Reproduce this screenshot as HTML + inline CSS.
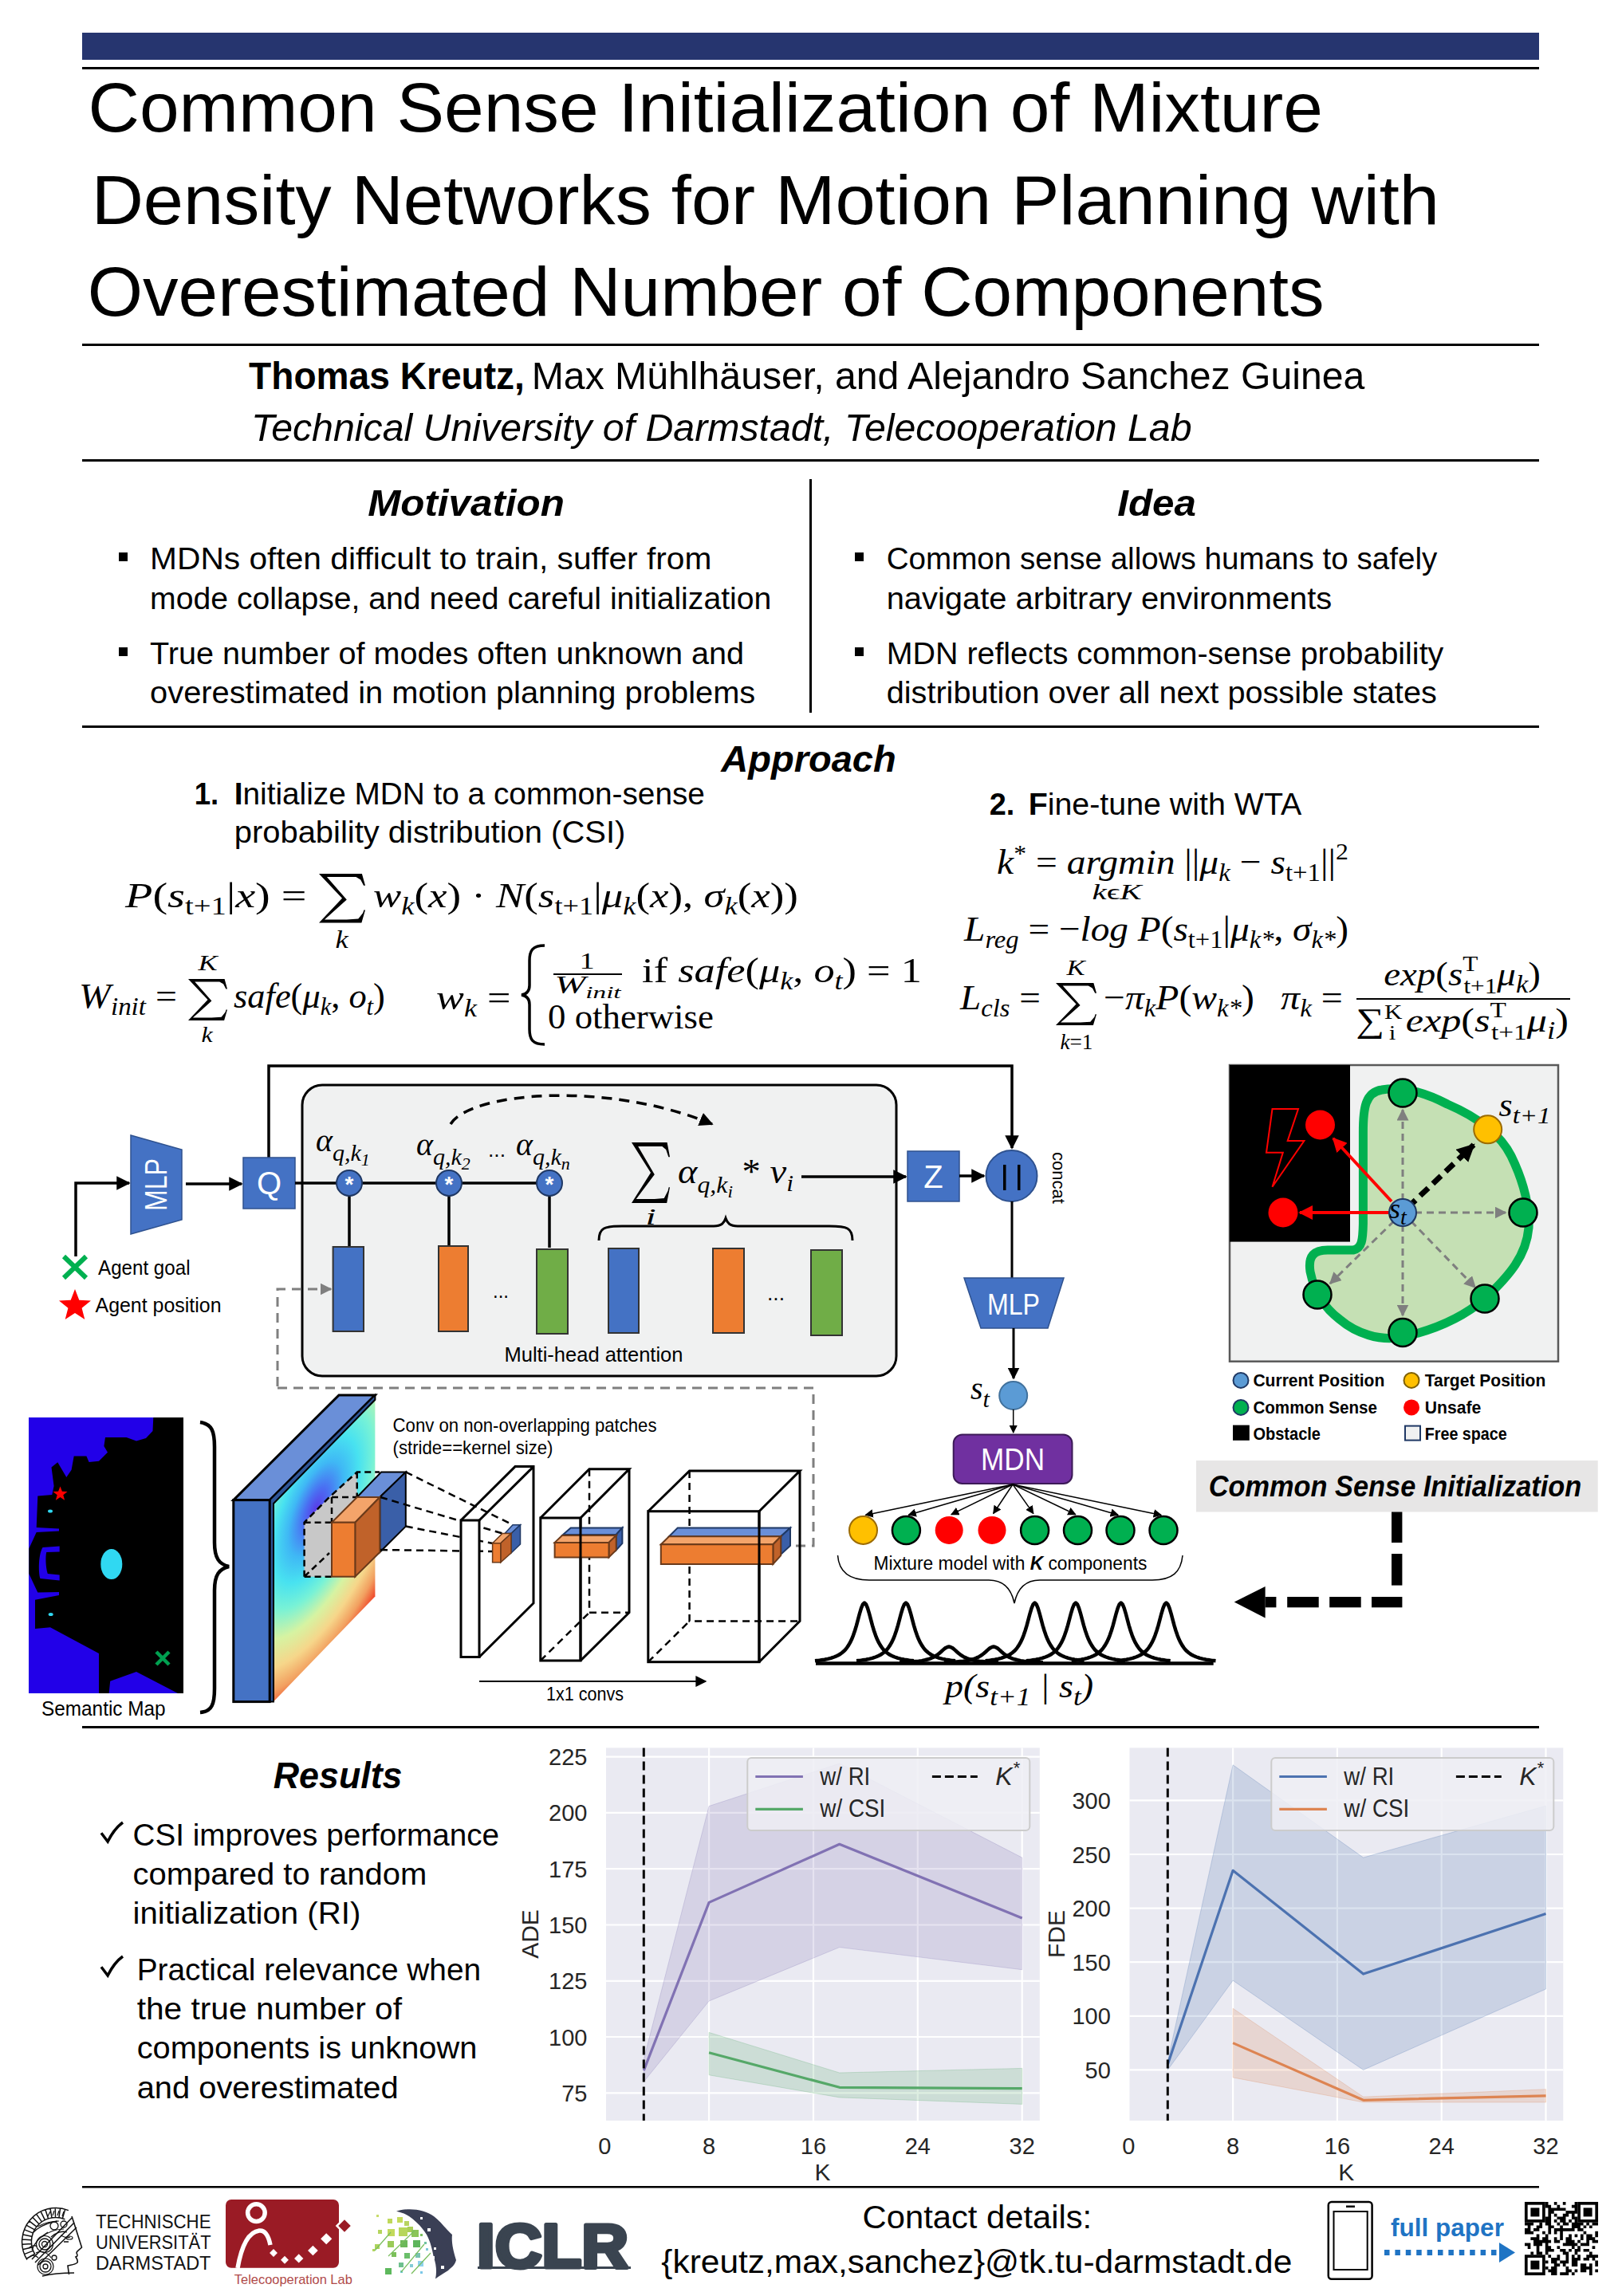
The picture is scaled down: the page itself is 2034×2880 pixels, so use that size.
<!DOCTYPE html>
<html><head><meta charset="utf-8"><title>Common Sense Initialization of Mixture Density Networks</title>
<style>
html,body{margin:0;padding:0;background:#fff;}
body{width:2034px;height:2880px;overflow:hidden;}
svg{display:block;font-family:"Liberation Sans", sans-serif;}
</style></head><body>
<svg width="2034" height="2880" viewBox="0 0 2034 2880">
<rect x="0" y="0" width="2034" height="2880" fill="#fff"/>
<rect x="103" y="41" width="1827" height="34" fill="#26356F" />
<rect x="103" y="84" width="1827" height="3" fill="#000" />
<text x="110.4" y="165.0" font-size="88" fill="#000" textLength="1548.5" lengthAdjust="spacingAndGlyphs" >Common Sense Initialization of Mixture</text>
<text x="114.7" y="280.5" font-size="88" fill="#000" textLength="1690.3" lengthAdjust="spacingAndGlyphs" >Density Networks for Motion Planning with</text>
<text x="109.7" y="396.0" font-size="88" fill="#000" textLength="1551.0" lengthAdjust="spacingAndGlyphs" >Overestimated Number of Components</text>
<rect x="103" y="431" width="1827" height="3" fill="#000" />
<text x="312.1" y="488.0" font-size="48" fill="#000" font-weight="bold" textLength="345.8" lengthAdjust="spacingAndGlyphs" >Thomas Kreutz,</text>
<text x="666.7" y="488.0" font-size="48" fill="#000" textLength="1044.7" lengthAdjust="spacingAndGlyphs" >Max Mühlhäuser, and Alejandro Sanchez Guinea</text>
<text x="315.1" y="553.0" font-size="48" fill="#000" font-style="italic" textLength="1179.4" lengthAdjust="spacingAndGlyphs" >Technical University of Darmstadt, Telecooperation Lab</text>
<rect x="103" y="576" width="1827" height="3" fill="#000" />
<text x="461.2" y="646.5" font-size="47" fill="#000" font-weight="bold" font-style="italic" textLength="246.6" lengthAdjust="spacingAndGlyphs" >Motivation</text>
<text x="1401.2" y="646.5" font-size="47" fill="#000" font-weight="bold" font-style="italic" textLength="98.6" lengthAdjust="spacingAndGlyphs" >Idea</text>
<rect x="1015" y="601" width="3" height="293" fill="#000" />
<rect x="149" y="693" width="11" height="11" fill="#000" />
<rect x="149" y="812" width="11" height="11" fill="#000" />
<text x="188.1" y="714.4" font-size="38" fill="#000" textLength="704.2" lengthAdjust="spacingAndGlyphs" >MDNs often difficult to train, suffer from</text>
<text x="188.1" y="763.7" font-size="38" fill="#000" textLength="779.2" lengthAdjust="spacingAndGlyphs" >mode collapse, and need careful initialization</text>
<text x="188.1" y="832.8" font-size="38" fill="#000" textLength="745.0" lengthAdjust="spacingAndGlyphs" >True number of modes often unknown and</text>
<text x="188.1" y="882.0" font-size="38" fill="#000" textLength="759.2" lengthAdjust="spacingAndGlyphs" >overestimated in motion planning problems</text>
<rect x="1072" y="693" width="11" height="11" fill="#000" />
<rect x="1072" y="812" width="11" height="11" fill="#000" />
<text x="1111.7" y="714.4" font-size="38" fill="#000" textLength="690.6" lengthAdjust="spacingAndGlyphs" >Common sense allows humans to safely</text>
<text x="1111.7" y="763.7" font-size="38" fill="#000" textLength="558.6" lengthAdjust="spacingAndGlyphs" >navigate arbitrary environments</text>
<text x="1111.7" y="832.8" font-size="38" fill="#000" textLength="698.6" lengthAdjust="spacingAndGlyphs" >MDN reflects common-sense probability</text>
<text x="1111.7" y="882.0" font-size="38" fill="#000" textLength="690.1" lengthAdjust="spacingAndGlyphs" >distribution over all next possible states</text>
<rect x="103" y="910" width="1827" height="3" fill="#000" />
<text x="904.2" y="968.0" font-size="47" fill="#000" font-weight="bold" font-style="italic" textLength="219.6" lengthAdjust="spacingAndGlyphs" >Approach</text>
<text x="243.7" y="1008.5" font-size="38" fill="#000" font-weight="bold" textLength="30.6" lengthAdjust="spacingAndGlyphs" >1.</text>
<text x='293.7' y='1008.5' font-size='38' textLength='590.2' lengthAdjust='spacingAndGlyphs'><tspan font-weight='bold'>I</tspan>nitialize MDN to a common-sense</text>
<text x="293.7" y="1057.0" font-size="38" fill="#000" textLength="490.6" lengthAdjust="spacingAndGlyphs" >probability distribution (CSI)</text>
<text x="1240.7" y="1021.7" font-size="38" fill="#000" font-weight="bold" textLength="31.6" lengthAdjust="spacingAndGlyphs" >2.</text>
<text x='1289.7' y='1021.7' font-size='38' textLength='342.6' lengthAdjust='spacingAndGlyphs'><tspan font-weight='bold'>F</tspan>ine-tune with WTA</text>
<text x="157.1" y="1137.7" font-size="45" font-family='"Liberation Serif", serif' font-style="italic" textLength="227.4" lengthAdjust="spacingAndGlyphs" >P<tspan font-style="normal">(</tspan>s<tspan font-size="31" dy="9"><tspan font-style="normal">t+1</tspan></tspan><tspan dy="-9">​</tspan><tspan font-style="normal">|</tspan>x<tspan font-style="normal">) =</tspan></text>
<path d="M400.0,1096.0 L453.9,1096.0 L458.0,1110.8 L456.0,1110.8 L452.2,1103.4 L446.4,1100.0 L431.9,1100.0 L409.9,1100.0 L434.8,1128.6 L407.0,1153.5 L434.8,1153.5 L449.3,1152.6 L455.1,1145.2 L456.3,1141.5 L458.0,1141.5 L453.4,1157.5 L400.0,1157.5 L429.0,1126.8 Z" fill="#000"/>
<text x="420.4" y="1189.0" font-size="31" font-family='"Liberation Serif", serif' font-style="italic" textLength="16.2" lengthAdjust="spacingAndGlyphs" >k</text>
<text x="468.1" y="1137.7" font-size="45" font-family='"Liberation Serif", serif' font-style="italic" textLength="532.8" lengthAdjust="spacingAndGlyphs" >w<tspan font-size="31" dy="9">k</tspan><tspan dy="-9">​</tspan><tspan font-style="normal">(</tspan>x<tspan font-style="normal">) · </tspan>N<tspan font-style="normal">(</tspan>s<tspan font-size="31" dy="9"><tspan font-style="normal">t+1</tspan></tspan><tspan dy="-9">​</tspan><tspan font-style="normal">|</tspan>μ<tspan font-size="31" dy="9">k</tspan><tspan dy="-9">​</tspan><tspan font-style="normal">(</tspan>x<tspan font-style="normal">),</tspan> σ<tspan font-size="31" dy="9">k</tspan><tspan dy="-9">​</tspan><tspan font-style="normal">(</tspan>x<tspan font-style="normal">))</text>
<text x="99.1" y="1263.5" font-size="45" font-family='"Liberation Serif", serif' font-style="italic" textLength="122.8" lengthAdjust="spacingAndGlyphs" >W<tspan font-size="31" dy="9">init</tspan><tspan dy="-9">​</tspan><tspan font-style="normal"> =</tspan></text>
<path d="M236.0,1228.0 L281.6,1228.0 L285.0,1240.5 L283.3,1240.5 L280.1,1234.2 L275.2,1231.4 L262.9,1231.4 L244.3,1231.4 L265.4,1255.6 L241.9,1276.6 L265.4,1276.6 L277.6,1275.8 L282.6,1269.6 L283.5,1266.5 L285.0,1266.5 L281.1,1280.0 L236.0,1280.0 L260.5,1254.0 Z" fill="#000"/>
<text x="248.4" y="1217.0" font-size="28" font-family='"Liberation Serif", serif' font-style="italic" textLength="24.1" lengthAdjust="spacingAndGlyphs" >K</text>
<text x="252.4" y="1307.0" font-size="28" font-family='"Liberation Serif", serif' font-style="italic" textLength="14.1" lengthAdjust="spacingAndGlyphs" >k</text>
<text x="293.1" y="1263.5" font-size="45" font-family='"Liberation Serif", serif' font-style="italic" textLength="189.8" lengthAdjust="spacingAndGlyphs" >safe<tspan font-style="normal">(</tspan>μ<tspan font-size="31" dy="9">k</tspan><tspan dy="-9">​</tspan><tspan font-style="normal">,</tspan> o<tspan font-size="31" dy="9">t</tspan><tspan dy="-9">​</tspan><tspan font-style="normal">)</tspan></text>
<text x="547.1" y="1266.0" font-size="45" font-family='"Liberation Serif", serif' font-style="italic" textLength="93.3" lengthAdjust="spacingAndGlyphs" >w<tspan font-size="31" dy="9">k</tspan><tspan dy="-9">​</tspan><tspan font-style="normal"> =</tspan></text>
<path d="M683,1186 C668,1186 664,1192 664,1205 L664,1236 C664,1244 660,1247 654,1248 C660,1249 664,1252 664,1260 L664,1291 C664,1304 668,1310 683,1310" fill="none" stroke="#000" stroke-width="3.5"/>
<text x="726.4" y="1215.0" font-size="30" font-family='"Liberation Serif", serif' font-style="italic" textLength="19.2" lengthAdjust="spacingAndGlyphs" ><tspan font-style="normal">1</tspan></text>
<rect x="694" y="1221" width="86" height="2" fill="#000" />
<text x="695.4" y="1246.0" font-size="31" font-family='"Liberation Serif", serif' font-style="italic" textLength="83.2" lengthAdjust="spacingAndGlyphs" >W<tspan font-size="22" dy="6">init</tspan><tspan dy="-6">​</tspan></text>
<text x="805.1" y="1232.0" font-size="45" font-family='"Liberation Serif", serif' font-style="italic" textLength="350.8" lengthAdjust="spacingAndGlyphs" ><tspan font-style="normal">if</tspan>  safe<tspan font-style="normal">(</tspan>μ<tspan font-size="31" dy="9">k</tspan><tspan dy="-9">​</tspan><tspan font-style="normal">,</tspan> o<tspan font-size="31" dy="9">t</tspan><tspan dy="-9">​</tspan><tspan font-style="normal">) = 1</tspan></text>
<text x="687.1" y="1290.0" font-size="45" font-family='"Liberation Serif", serif' font-style="italic" textLength="207.8" lengthAdjust="spacingAndGlyphs" ><tspan font-style="normal">0  otherwise</tspan></text>
<text x="1250.1" y="1095.5" font-size="45" font-family='"Liberation Serif", serif' font-style="italic" textLength="440.8" lengthAdjust="spacingAndGlyphs" >k<tspan font-style="normal"><tspan font-size="30" dy="-16">*</tspan><tspan dy="16"> = </tspan></tspan>argmin <tspan font-style="normal">||</tspan>μ<tspan font-size="31" dy="9">k</tspan><tspan dy="-9">​</tspan><tspan font-style="normal"> − </tspan>s<tspan font-size="31" dy="9"><tspan font-style="normal">t+1</tspan></tspan><tspan dy="-9">​</tspan><tspan font-style="normal">||<tspan font-size="30" dy="-18">2</tspan></tspan></text>
<text x="1369.5" y="1128.0" font-size="27" font-family='"Liberation Serif", serif' font-style="italic" textLength="62.1" lengthAdjust="spacingAndGlyphs" >k<tspan font-style="normal">ϵ</tspan>K</text>
<text x="1209.1" y="1180.0" font-size="45" font-family='"Liberation Serif", serif' font-style="italic" textLength="481.8" lengthAdjust="spacingAndGlyphs" >L<tspan font-size="31" dy="9">reg</tspan><tspan dy="-9">​</tspan><tspan font-style="normal"> = −</tspan>log P<tspan font-style="normal">(</tspan>s<tspan font-size="31" dy="9"><tspan font-style="normal">t+1</tspan></tspan><tspan dy="-9">​</tspan><tspan font-style="normal">|</tspan>μ<tspan font-size="31" dy="9">k*</tspan><tspan dy="-9">​</tspan><tspan font-style="normal">,</tspan> σ<tspan font-size="31" dy="9">k*</tspan><tspan dy="-9">​</tspan><tspan font-style="normal">)</tspan></text>
<text x="1204.1" y="1266.0" font-size="45" font-family='"Liberation Serif", serif' font-style="italic" textLength="100.8" lengthAdjust="spacingAndGlyphs" >L<tspan font-size="31" dy="9">cls</tspan><tspan dy="-9">​</tspan><tspan font-style="normal"> =</tspan></text>
<path d="M1324.0,1233.0 L1371.4,1233.0 L1375.0,1245.7 L1373.2,1245.7 L1369.9,1239.4 L1364.8,1236.4 L1352.0,1236.4 L1332.7,1236.4 L1354.6,1261.1 L1330.1,1282.6 L1354.6,1282.6 L1367.3,1281.8 L1372.5,1275.4 L1373.5,1272.2 L1375.0,1272.2 L1370.9,1286.0 L1324.0,1286.0 L1349.5,1259.5 Z" fill="#000"/>
<text x="1337.4" y="1223.0" font-size="28" font-family='"Liberation Serif", serif' font-style="italic" textLength="23.1" lengthAdjust="spacingAndGlyphs" >K</text>
<text x="1329.4" y="1316.0" font-size="28" font-family='"Liberation Serif", serif' font-style="italic" textLength="41.1" lengthAdjust="spacingAndGlyphs" >k<tspan font-style="normal">=1</tspan></text>
<text x="1384.1" y="1266.0" font-size="45" font-family='"Liberation Serif", serif' font-style="italic" textLength="188.8" lengthAdjust="spacingAndGlyphs" ><tspan font-style="normal">−</tspan>π<tspan font-size="31" dy="9">k</tspan><tspan dy="-9">​</tspan>P<tspan font-style="normal">(</tspan>w<tspan font-size="31" dy="9">k*</tspan><tspan dy="-9">​</tspan><tspan font-style="normal">)</tspan></text>
<text x="1606.1" y="1266.0" font-size="45" font-family='"Liberation Serif", serif' font-style="italic" textLength="77.8" lengthAdjust="spacingAndGlyphs" >π<tspan font-size="31" dy="9">k</tspan><tspan dy="-9">​</tspan><tspan font-style="normal"> =</tspan></text>
<text x="1735.2" y="1235.5" font-size="42" font-family='"Liberation Serif", serif' font-style="italic" textLength="196.7" lengthAdjust="spacingAndGlyphs" >exp<tspan font-style="normal">(</tspan>s<tspan font-style="normal"><tspan font-size="28" dy="-18">T</tspan><tspan font-size="28" dx="-16" dy="28">t+1</tspan><tspan dy="-10">​</tspan></tspan>μ<tspan font-size="31" dy="9">k</tspan><tspan dy="-9">​</tspan><tspan font-style="normal">)</tspan></text>
<rect x="1701" y="1252" width="268" height="2" fill="#000" />
<text x="1700.2" y="1293.7" font-size="42" font-family='"Liberation Serif", serif' font-style="italic" textLength="266.7" lengthAdjust="spacingAndGlyphs" ><tspan font-style="normal">∑<tspan font-size="26" dy="-16">K</tspan><tspan font-size="26" dx="-14" dy="26">i</tspan><tspan dy="-10">​</tspan></tspan> exp<tspan font-style="normal">(</tspan>s<tspan font-style="normal"><tspan font-size="28" dy="-18">T</tspan><tspan font-size="28" dx="-16" dy="28">t+1</tspan><tspan dy="-10">​</tspan></tspan>μ<tspan font-size="31" dy="9">i</tspan><tspan dy="-9">​</tspan><tspan font-style="normal">)</tspan></text>
<defs>
<marker id="ah" viewBox="0 0 10 10" refX="9" refY="5" markerWidth="5" markerHeight="5" orient="auto" markerUnits="strokeWidth"><path d="M0,0 L10,5 L0,10 z" fill="#000"/></marker>
<marker id="ahs" viewBox="0 0 10 10" refX="9" refY="5" markerWidth="7" markerHeight="7" orient="auto" markerUnits="strokeWidth"><path d="M0,0 L10,5 L0,10 z" fill="#000"/></marker>
<marker id="ahg" viewBox="0 0 10 10" refX="9" refY="5" markerWidth="5" markerHeight="5" orient="auto" markerUnits="strokeWidth"><path d="M0,0 L10,5 L0,10 z" fill="#7F7F7F"/></marker>
<radialGradient id="jet" gradientUnits="userSpaceOnUse" cx="0" cy="0" r="1" gradientTransform="matrix(113.25,-267.90,-109.43,-46.26,396,1893)">
<stop offset="0" stop-color="#5A3BE8"/><stop offset="0.1" stop-color="#4A6FF2"/><stop offset="0.22" stop-color="#3FB8F5"/><stop offset="0.34" stop-color="#48E2F0"/><stop offset="0.46" stop-color="#78F2D6"/>
<stop offset="0.6" stop-color="#D6F3A2"/><stop offset="0.74" stop-color="#F6D68A"/><stop offset="0.86" stop-color="#F2A060"/><stop offset="1" stop-color="#EE2A18"/></radialGradient>
</defs>
<path d="M337,1452 L337,1337 L1269,1337 L1269,1440" fill="none" stroke="#000" stroke-width="3.5" marker-end="url(#ah)"/>
<path d="M95,1576 L95,1484 L162,1484" fill="none" stroke="#000" stroke-width="3.5" marker-end="url(#ah)"/>
<path d="M164,1424 L228,1442 L228,1530 L164,1548 Z" fill="#4472C4" stroke="#2F528F" stroke-width="1.5"/>
<text x="0" y="0" font-size="38" fill="#fff" text-anchor="middle" transform="translate(209,1486) rotate(-90)" textLength="66" lengthAdjust="spacingAndGlyphs">MLP</text>
<path d="M233,1485 L303,1485" fill="none" stroke="#000" stroke-width="3.5" marker-end="url(#ah)"/>
<rect x="305" y="1452" width="65" height="64" fill="#4472C4" stroke="#2F528F" stroke-width="1.5"/>
<text x="337.5" y="1498" font-size="40" fill="#fff" text-anchor="middle">Q</text>
<rect x="379" y="1361" width="745" height="365" rx="25" ry="25" fill="#F0F1F1" stroke="#000" stroke-width="3"/>
<path d="M370,1484 L689,1484" stroke="#000" stroke-width="3.5"/>
<path d="M438,1500 L438,1565" stroke="#000" stroke-width="3.5"/>
<circle cx="438" cy="1484" r="16" fill="#4472C4" stroke="#1F3864" stroke-width="2"/>
<text x="438" y="1495" font-size="28" font-weight="bold" fill="#fff" text-anchor="middle">*</text>
<path d="M563,1500 L563,1565" stroke="#000" stroke-width="3.5"/>
<circle cx="563" cy="1484" r="16" fill="#4472C4" stroke="#1F3864" stroke-width="2"/>
<text x="563" y="1495" font-size="28" font-weight="bold" fill="#fff" text-anchor="middle">*</text>
<path d="M689,1500 L689,1565" stroke="#000" stroke-width="3.5"/>
<circle cx="689" cy="1484" r="16" fill="#4472C4" stroke="#1F3864" stroke-width="2"/>
<text x="689" y="1495" font-size="28" font-weight="bold" fill="#fff" text-anchor="middle">*</text>
<rect x="417.6" y="1564" width="38.39999999999998" height="106" fill="#4472C4" stroke="#333" stroke-width="2"/>
<rect x="550" y="1563" width="37" height="107" fill="#ED7D31" stroke="#333" stroke-width="2"/>
<rect x="673" y="1567" width="39" height="106" fill="#70AD47" stroke="#333" stroke-width="2"/>
<rect x="763" y="1566" width="38" height="106" fill="#4472C4" stroke="#333" stroke-width="2"/>
<rect x="894" y="1566" width="39" height="106" fill="#ED7D31" stroke="#333" stroke-width="2"/>
<rect x="1017" y="1568" width="39" height="107" fill="#70AD47" stroke="#333" stroke-width="2"/>
<text x="618.0" y="1628.0" font-size="26" fill="#000" textLength="20.0" lengthAdjust="spacingAndGlyphs" >...</text>
<text x="962.0" y="1631.0" font-size="26" fill="#000" textLength="22.0" lengthAdjust="spacingAndGlyphs" >...</text>
<text x='396' y='1444' font-size='40' font-family='"Liberation Serif", serif' font-style='italic'>α<tspan font-size='30' dy='12'>q,k</tspan><tspan font-size='22' dy='6'>1</tspan></text>
<text x='522' y='1449' font-size='40' font-family='"Liberation Serif", serif' font-style='italic'>α<tspan font-size='30' dy='12'>q,k</tspan><tspan font-size='22' dy='6'>2</tspan></text>
<text x="612.0" y="1451.0" font-size="26" fill="#000" textLength="22.0" lengthAdjust="spacingAndGlyphs" >...</text>
<text x='647' y='1449' font-size='40' font-family='"Liberation Serif", serif' font-style='italic'>α<tspan font-size='30' dy='12'>q,k</tspan><tspan font-size='22' dy='6'>n</tspan></text>
<path d="M565,1410 C590,1370 760,1355 893,1410" fill="none" stroke="#000" stroke-width="3.5" stroke-dasharray="13,9" marker-end="url(#ah)"/>
<path d="M792.0,1433.0 L836.6,1433.0 L840.0,1451.2 L838.3,1451.2 L835.2,1442.1 L830.4,1437.9 L818.4,1437.9 L800.2,1437.9 L820.8,1473.3 L797.8,1504.1 L820.8,1504.1 L832.8,1502.9 L837.6,1493.8 L838.6,1489.2 L840.0,1489.2 L836.2,1509.0 L792.0,1509.0 L816.0,1471.0 Z" fill="#000"/>
<text x="809.4" y="1536.0" font-size="30" font-family='"Liberation Serif", serif' font-style="italic" textLength="13.2" lengthAdjust="spacingAndGlyphs" >i</text>
<text x='850' y='1484' font-size='44' font-family='"Liberation Serif", serif' font-style='italic' textLength='145' lengthAdjust='spacingAndGlyphs'>α<tspan font-size='30' dy='12'>q,k</tspan><tspan font-size='22' dy='6'>i</tspan><tspan dy='-18' font-style='normal'> * </tspan>v<tspan font-size='30' dy='10'>i</tspan></text>
<path d="M751,1556 C751,1540 758,1538 780,1538 L895,1538 C905,1538 908,1534 910,1528 C912,1534 915,1538 925,1538 L1040,1538 C1062,1538 1069,1540 1069,1556" fill="none" stroke="#000" stroke-width="3"/>
<path d="M1005,1476 L1136,1476" stroke="#000" stroke-width="3.5" marker-end="url(#ah)"/>
<rect x="1138" y="1444" width="65" height="63" fill="#4472C4" stroke="#2F528F" stroke-width="1.5"/>
<text x="1170.5" y="1490" font-size="40" fill="#fff" text-anchor="middle">Z</text>
<path d="M1203,1475 L1234,1475" stroke="#000" stroke-width="3.5" marker-end="url(#ah)"/>
<circle cx="1268.5" cy="1475" r="32" fill="#4472C4" stroke="#2F528F" stroke-width="2"/>
<rect x="1258" y="1461" width="3.5" height="32" fill="#000" />
<rect x="1276" y="1461" width="3.5" height="32" fill="#000" />
<text x="0" y="0" font-size="22" fill="#000" text-anchor="middle" transform="translate(1320,1477.5) rotate(90)" textLength="65" lengthAdjust="spacingAndGlyphs">concat</text>
<path d="M1269,1507 L1269,1603" stroke="#000" stroke-width="3"/>
<path d="M1209,1603 L1334,1603 L1314,1666 L1230,1666 Z" fill="#4472C4" stroke="#2F528F" stroke-width="1.5"/>
<text x="1271" y="1649" font-size="36" fill="#fff" text-anchor="middle" textLength="66" lengthAdjust="spacingAndGlyphs">MLP</text>
<path d="M1271,1666 L1271,1729" stroke="#000" stroke-width="3" marker-end="url(#ah)"/>
<circle cx="1270.7" cy="1750.5" r="17.5" fill="#5B9BD5" stroke="#41719C" stroke-width="2"/>
<text x='1217' y='1755' font-size='40' font-family='"Liberation Serif", serif' font-style='italic'>s<tspan font-size='30' dy='10'>t</tspan></text>
<text x="632.5" y="1708.0" font-size="25" fill="#000" textLength="224.0" lengthAdjust="spacingAndGlyphs" >Multi-head attention</text>
<path d="M80,1576 L108,1603 M108,1576 L80,1603" stroke="#00B050" stroke-width="6"/>
<text x="123.1" y="1598.7" font-size="25" fill="#000" textLength="115.4" lengthAdjust="spacingAndGlyphs" >Agent goal</text>
<polygon points="94.0,1617.0 99.3,1630.7 114.0,1631.5 102.6,1640.8 106.3,1655.0 94.0,1647.0 81.7,1655.0 85.4,1640.8 74.0,1631.5 88.7,1630.7" fill="#FF0000"/>
<text x="119.5" y="1645.5" font-size="25" fill="#000" textLength="158.0" lengthAdjust="spacingAndGlyphs" >Agent position</text>
<path d="M348,1739 L348,1617 L415,1617" fill="none" stroke="#7F7F7F" stroke-width="3" stroke-dasharray="12,8" marker-end="url(#ahg)"/>
<path d="M348,1741 L1020,1741 L1020,1939 L990,1939" fill="none" stroke="#7F7F7F" stroke-width="3" stroke-dasharray="12,8"/>
<rect x="36" y="1778" width="194" height="346" fill="#2200E8" />
<polygon points="192.3,1778.0 191.5,1795.0 183.0,1804.0 171.0,1807.6 158.6,1803.0 132.0,1803.0 130.4,1814.0 135.0,1821.8 124.0,1832.7 111.6,1834.0 108.4,1826.5 92.7,1826.5 89.6,1843.7 83.3,1853.0 72.3,1834.3 64.5,1840.6 67.6,1864.0 65.3,1875.0 47.3,1876.6 45.7,1915.9 74.0,1917.5 74.0,1920.5 45.7,1922.0 36.3,1942.5 36.3,1974.0 47.3,1997.4 74.0,1997.0 74.0,2001.0 44.0,2006.8 44.0,2042.9 63.0,2041.3 124.0,2074.0 124.0,2124.0 136.6,2124.0 138.2,2108.8 171.0,2097.0 223.0,2124.0 230.0,2124.0 230.0,1778.0" fill="#000"/>
<path d="M74.7,1939.4 L53.5,1941 C48,1950 48,1972 50.4,1980 L74.7,1982.5 L74.7,1975.5 L59.8,1974 C57,1965 57,1952 58.2,1947 L74.7,1946.4 Z" fill="#2200E8"/>
<ellipse cx="139.8" cy="1962" rx="13.5" ry="19" fill="#30D8F2"/>
<ellipse cx="63" cy="1895.5" rx="3" ry="2" fill="#30D8F2"/><ellipse cx="63.7" cy="2025" rx="3" ry="2" fill="#30D8F2"/>
<polygon points="75.5,1864.5 77.9,1870.8 84.5,1871.1 79.3,1875.2 81.1,1881.7 75.5,1878.0 69.9,1881.7 71.7,1875.2 66.5,1871.1 73.1,1870.8" fill="#FF0000"/>
<path d="M196,2072 L212,2088 M212,2072 L196,2088" stroke="#00A050" stroke-width="4.5"/>
<text x="52.1" y="2151.6" font-size="26" fill="#000" textLength="155.4" lengthAdjust="spacingAndGlyphs" >Semantic Map</text>
<path d="M251,1784 C266,1786 269,1796 269,1815 L269,1935 C269,1955 275,1962 287,1965 C275,1968 269,1975 269,1995 L269,2118 C269,2137 266,2147 251,2148" fill="none" stroke="#000" stroke-width="4.5"/>
<polygon points="292.8,1881.6 338.2,1881.6 470.4,1749.9 425,1749.9" fill="#6A8FD8" stroke="#000" stroke-width="3"/>
<polygon points="343,1886 470.4,1755.8 470.4,2002.4 343,2134.6" fill="url(#jet)"/>
<polygon points="338.2,1881.6 470.4,1749.9 470.4,1755.8 343,1886 343,2134.6 338.2,2134.6" fill="#2F5597" stroke="#000" stroke-width="2"/>
<rect x="292.8" y="1881.6" width="45.4" height="253" fill="#4472C4" stroke="#000" stroke-width="3"/>
<polygon points="381.6,1909.7 416,1909.7 447.7,1846.5 413,1878 381.6,1909.7" fill="#C8C8C8"/>
<polygon points="381.6,1909.7 447.7,1846.5 447.7,1878 416,1909.7 416,1977.7 381.6,1977.7" fill="#C8C8C8"/>
<path d="M381.6,1977.7 L381.6,1909.7 L413,1878 L447.7,1846.5 L476,1846.5 M381.6,1909.7 L416,1909.7 M416,1878 L447.7,1878 M447.7,1846.5 L447.7,1878 M416,1878 L416,1909.7 M381.6,1977.7 L416,1977.7 M381.6,1977.7 L413,1948" fill="none" stroke="#000" stroke-width="2.5" stroke-dasharray="8,5"/>
<polygon points="447.7,1878 478,1846.5 508.8,1846.5 476.3,1878" fill="#6A8FD8" stroke="#000" stroke-width="2"/>
<polygon points="476.3,1878 508.8,1846.5 508.8,1914.6 476.3,1947" fill="#3A5FA8" stroke="#000" stroke-width="2"/>
<polygon points="416,1909.7 445.3,1909.7 476.3,1878 447.7,1878" fill="#F4A46A" stroke="#6B3A1A" stroke-width="2"/>
<polygon points="445.3,1909.7 476.3,1878 476.3,1947 445.3,1977.7" fill="#C0622A" stroke="#6B3A1A" stroke-width="2"/>
<rect x="416" y="1909.7" width="29.3" height="68" fill="#ED7D31" stroke="#6B3A1A" stroke-width="2"/>
<path d="M508.8,1846.5 L643,1912.7 M477,1878 L630,1923.5 M508.8,1914.6 L618,1936 M477,1944 L618,1946" fill="none" stroke="#000" stroke-width="2.5" stroke-dasharray="9,6"/>
<text x="492.6" y="1795.5" font-size="24" fill="#000" textLength="330.9" lengthAdjust="spacingAndGlyphs" >Conv on non-overlapping patches</text>
<text x="492.6" y="1823.6" font-size="24" fill="#000" textLength="200.9" lengthAdjust="spacingAndGlyphs" >(stride==kernel size)</text>
<path d="M578,1907 L646,1839.6 L669,1839.6 L669,2011 L601,2078.5 M601,1907 L669,1839.6" fill="none" stroke="#000" stroke-width="3"/>
<rect x="578" y="1907" width="23" height="171.5" fill="#fff" stroke="#000" stroke-width="3"/>
<polygon points="633,1923.5 643,1912.7 652.5,1912.7 641,1923.5" fill="#6A8FD8" stroke="#1F3864" stroke-width="1.5"/>
<polygon points="641,1923.5 652.5,1912.7 652.5,1937 641,1948" fill="#3A5FA8" stroke="#1F3864" stroke-width="1.5"/>
<polygon points="617.6,1935.8 627.8,1935.8 641,1923.5 630,1923.5" fill="#F4A46A" stroke="#6B3A1A" stroke-width="1.5"/>
<polygon points="627.8,1935.8 641,1923.5 641,1948 627.8,1959.8" fill="#C0622A" stroke="#6B3A1A" stroke-width="1.5"/>
<rect x="617.6" y="1935.8" width="10.2" height="24" fill="#ED7D31" stroke="#6B3A1A" stroke-width="1.5"/>
<path d="M739,1842.7 L739,2022.7 L789,2022.7 M677.8,2083 L739,2022.7" fill="none" stroke="#000" stroke-width="2.5" stroke-dasharray="9,6"/>
<path d="M677.8,1904 L739,1842.7 L789,1842.7 L728,1904 M789,1842.7 L789,2022.7 L728,2083" fill="none" stroke="#000" stroke-width="3"/>
<rect x="677.8" y="1904" width="50.200000000000045" height="179" fill="none" stroke="#000" stroke-width="3"/>
<path d="M864.6,1845 L864.6,2033.5 L1003,2033.5 M812.8,2084.7 L864.6,2033.5" fill="none" stroke="#000" stroke-width="2.5" stroke-dasharray="9,6"/>
<path d="M812.8,1895.7 L864.6,1845 L1003,1845 L952,1895.7 M1003,1845 L1003,2033.5 L952,2084.7" fill="none" stroke="#000" stroke-width="3"/>
<rect x="812.8" y="1895.7" width="139.20000000000005" height="188.99999999999977" fill="none" stroke="#000" stroke-width="3"/>
<polygon points="706,1925 715.7,1916.4 780.4,1916.4 772.7,1925" fill="#6A8FD8" stroke="#1F3864" stroke-width="2"/>
<polygon points="772.7,1925 780.4,1916.4 780.4,1935.8 772.7,1944.4" fill="#3A5FA8" stroke="#1F3864" stroke-width="2"/>
<polygon points="695.6,1934.9 763.5,1934.9 772.7,1926 704.9,1926" fill="#F4A46A" stroke="#6B3A1A" stroke-width="2"/>
<polygon points="763.5,1934.9 772.7,1926 772.7,1944.4 763.5,1953.4" fill="#C0622A" stroke="#6B3A1A" stroke-width="2"/>
<polygon points="695.6,1934.9 763.5,1934.9 763.5,1953.4 695.6,1953.4" fill="#ED7D31" stroke="#6B3A1A" stroke-width="2"/>
<path d="M728,1904 L728,2083" stroke="#000" stroke-width="3"/>
<polygon points="839,1927.2 849.8,1916.4 991,1916.4 979.2,1927.2" fill="#6A8FD8" stroke="#1F3864" stroke-width="2"/>
<polygon points="979.2,1927.2 991,1916.4 991,1938.9 979.2,1949.7" fill="#3A5FA8" stroke="#1F3864" stroke-width="2"/>
<polygon points="828.8,1937.3 969.4,1937.3 979.2,1927.2 839,1927.2" fill="#F4A46A" stroke="#6B3A1A" stroke-width="2"/>
<polygon points="969.4,1937.3 979.2,1927.2 979.2,1951.2 969.4,1962" fill="#C0622A" stroke="#6B3A1A" stroke-width="2"/>
<polygon points="828.8,1937.3 969.4,1937.3 969.4,1962 828.8,1962" fill="#ED7D31" stroke="#6B3A1A" stroke-width="2"/>
<path d="M952,1895.7 L952,2084.7" stroke="#000" stroke-width="3"/>
<path d="M601,2109 L885,2109" stroke="#000" stroke-width="2" marker-end="url(#ahs)"/>
<text x="685.0" y="2133.0" font-size="24" fill="#000" textLength="96.9" lengthAdjust="spacingAndGlyphs" >1x1 convs</text>
<path d="M1270.7,1768 L1270.7,1797" stroke="#000" stroke-width="1.5" marker-end="url(#ahs)"/>
<rect x="1195.7" y="1799.5" width="148.8" height="61.5" rx="11" fill="#7030A0" stroke="#3C1A57" stroke-width="2"/>
<text x="1270" y="1844" font-size="38" fill="#fff" text-anchor="middle" textLength="80" lengthAdjust="spacingAndGlyphs">MDN</text>
<path d="M1270,1862 L1085.4,1900.4" stroke="#000" stroke-width="1.5" marker-end="url(#ahs)"/>
<path d="M1270,1862 L1139.3,1900.2" stroke="#000" stroke-width="1.5" marker-end="url(#ahs)"/>
<path d="M1270,1862 L1192.9,1899.7" stroke="#000" stroke-width="1.5" marker-end="url(#ahs)"/>
<path d="M1270,1862 L1245.7,1898.5" stroke="#000" stroke-width="1.5" marker-end="url(#ahs)"/>
<path d="M1270,1862 L1295.9,1898.6" stroke="#000" stroke-width="1.5" marker-end="url(#ahs)"/>
<path d="M1270,1862 L1348.8,1899.7" stroke="#000" stroke-width="1.5" marker-end="url(#ahs)"/>
<path d="M1270,1862 L1402.1,1900.2" stroke="#000" stroke-width="1.5" marker-end="url(#ahs)"/>
<path d="M1270,1862 L1456.1,1900.4" stroke="#000" stroke-width="1.5" marker-end="url(#ahs)"/>
<circle cx="1082.5" cy="1919.4" r="17.5" fill="#FFC000" stroke="#9C6B00" stroke-width="2"/>
<circle cx="1136.4" cy="1919.4" r="17.5" fill="#00B050" stroke="#000" stroke-width="2.5"/>
<circle cx="1190.2" cy="1919.4" r="17.5" fill="#FF0000" />
<circle cx="1244" cy="1919.4" r="17.5" fill="#FF0000" />
<circle cx="1297.6" cy="1919.4" r="17.5" fill="#00B050" stroke="#000" stroke-width="2.5"/>
<circle cx="1351.5" cy="1919.4" r="17.5" fill="#00B050" stroke="#000" stroke-width="2.5"/>
<circle cx="1405" cy="1919.4" r="17.5" fill="#00B050" stroke="#000" stroke-width="2.5"/>
<circle cx="1459" cy="1919.4" r="17.5" fill="#00B050" stroke="#000" stroke-width="2.5"/>
<path d="M1050.5,1951 C1052,1972 1065,1982 1090,1982 L1240,1982 C1258,1982 1268,1992 1272,2011 C1276,1992 1286,1982 1304,1982 L1445,1982 C1470,1982 1481,1972 1483,1951" fill="none" stroke="#000" stroke-width="1.5"/>
<text x='1095.6' y='1969.4' font-size='23' textLength='342.8' lengthAdjust='spacingAndGlyphs'>Mixture model with <tspan font-weight='bold' font-style='italic'>K</tspan> components</text>
<polyline points="1022.0,2083.3 1024.0,2083.1 1026.0,2082.9 1028.0,2082.6 1030.0,2082.3 1032.0,2082.0 1034.0,2081.7 1036.0,2081.3 1038.0,2080.9 1040.0,2080.4 1042.0,2079.9 1044.0,2079.2 1046.0,2078.5 1048.0,2077.7 1050.0,2076.8 1052.0,2075.7 1054.0,2074.5 1056.0,2073.0 1058.0,2071.3 1060.0,2069.3 1062.0,2066.8 1064.0,2063.9 1066.0,2060.4 1068.0,2056.3 1070.0,2051.3 1072.0,2045.5 1074.0,2038.8 1076.0,2031.4 1078.0,2023.8 1080.0,2017.1 1082.0,2012.3 1084.0,2010.5 1086.0,2012.3 1088.0,2017.1 1090.0,2023.8 1092.0,2031.4 1094.0,2038.8 1096.0,2045.5 1098.0,2051.3 1100.0,2056.3 1102.0,2060.4 1104.0,2063.9 1106.0,2066.8 1108.0,2069.3 1110.0,2071.3 1112.0,2073.0 1114.0,2074.5 1116.0,2075.7 1118.0,2076.8 1120.0,2077.7 1122.0,2078.5 1124.0,2079.2 1126.0,2079.9 1128.0,2080.4 1130.0,2080.9 1132.0,2081.3 1134.0,2081.7 1136.0,2082.0 1138.0,2082.3 1140.0,2082.6 1142.0,2082.9 1144.0,2083.1 1146.0,2083.3" fill="none" stroke="#000" stroke-width="4.5" stroke-linejoin="round"/>
<polyline points="1074.0,2083.3 1076.0,2083.1 1078.0,2082.9 1080.0,2082.6 1082.0,2082.3 1084.0,2082.0 1086.0,2081.7 1088.0,2081.3 1090.0,2080.9 1092.0,2080.4 1094.0,2079.9 1096.0,2079.2 1098.0,2078.5 1100.0,2077.7 1102.0,2076.8 1104.0,2075.7 1106.0,2074.5 1108.0,2073.0 1110.0,2071.3 1112.0,2069.3 1114.0,2066.8 1116.0,2063.9 1118.0,2060.4 1120.0,2056.3 1122.0,2051.3 1124.0,2045.5 1126.0,2038.8 1128.0,2031.4 1130.0,2023.8 1132.0,2017.1 1134.0,2012.3 1136.0,2010.5 1138.0,2012.3 1140.0,2017.1 1142.0,2023.8 1144.0,2031.4 1146.0,2038.8 1148.0,2045.5 1150.0,2051.3 1152.0,2056.3 1154.0,2060.4 1156.0,2063.9 1158.0,2066.8 1160.0,2069.3 1162.0,2071.3 1164.0,2073.0 1166.0,2074.5 1168.0,2075.7 1170.0,2076.8 1172.0,2077.7 1174.0,2078.5 1176.0,2079.2 1178.0,2079.9 1180.0,2080.4 1182.0,2080.9 1184.0,2081.3 1186.0,2081.7 1188.0,2082.0 1190.0,2082.3 1192.0,2082.6 1194.0,2082.9 1196.0,2083.1 1198.0,2083.3" fill="none" stroke="#000" stroke-width="4.5" stroke-linejoin="round"/>
<polyline points="1128.0,2085.3 1130.0,2085.3 1132.0,2085.2 1134.0,2085.1 1136.0,2085.0 1138.0,2084.9 1140.0,2084.8 1142.0,2084.6 1144.0,2084.5 1146.0,2084.3 1148.0,2084.1 1150.0,2083.9 1152.0,2083.7 1154.0,2083.4 1156.0,2083.1 1158.0,2082.7 1160.0,2082.3 1162.0,2081.8 1164.0,2081.3 1166.0,2080.6 1168.0,2079.8 1170.0,2078.9 1172.0,2077.9 1174.0,2076.7 1176.0,2075.3 1178.0,2073.7 1180.0,2072.0 1182.0,2070.2 1184.0,2068.4 1186.0,2066.9 1188.0,2065.9 1190.0,2065.5 1192.0,2065.9 1194.0,2066.9 1196.0,2068.4 1198.0,2070.2 1200.0,2072.0 1202.0,2073.7 1204.0,2075.3 1206.0,2076.7 1208.0,2077.9 1210.0,2078.9 1212.0,2079.8 1214.0,2080.6 1216.0,2081.3 1218.0,2081.8 1220.0,2082.3 1222.0,2082.7 1224.0,2083.1 1226.0,2083.4 1228.0,2083.7 1230.0,2083.9 1232.0,2084.1 1234.0,2084.3 1236.0,2084.5 1238.0,2084.6 1240.0,2084.8 1242.0,2084.9 1244.0,2085.0 1246.0,2085.1 1248.0,2085.2 1250.0,2085.3 1252.0,2085.3" fill="none" stroke="#000" stroke-width="4.5" stroke-linejoin="round"/>
<polyline points="1184.0,2085.3 1186.0,2085.3 1188.0,2085.2 1190.0,2085.1 1192.0,2085.0 1194.0,2084.9 1196.0,2084.8 1198.0,2084.6 1200.0,2084.5 1202.0,2084.3 1204.0,2084.1 1206.0,2083.9 1208.0,2083.7 1210.0,2083.4 1212.0,2083.1 1214.0,2082.7 1216.0,2082.3 1218.0,2081.8 1220.0,2081.3 1222.0,2080.6 1224.0,2079.8 1226.0,2078.9 1228.0,2077.9 1230.0,2076.7 1232.0,2075.3 1234.0,2073.7 1236.0,2072.0 1238.0,2070.2 1240.0,2068.4 1242.0,2066.9 1244.0,2065.9 1246.0,2065.5 1248.0,2065.9 1250.0,2066.9 1252.0,2068.4 1254.0,2070.2 1256.0,2072.0 1258.0,2073.7 1260.0,2075.3 1262.0,2076.7 1264.0,2077.9 1266.0,2078.9 1268.0,2079.8 1270.0,2080.6 1272.0,2081.3 1274.0,2081.8 1276.0,2082.3 1278.0,2082.7 1280.0,2083.1 1282.0,2083.4 1284.0,2083.7 1286.0,2083.9 1288.0,2084.1 1290.0,2084.3 1292.0,2084.5 1294.0,2084.6 1296.0,2084.8 1298.0,2084.9 1300.0,2085.0 1302.0,2085.1 1304.0,2085.2 1306.0,2085.3 1308.0,2085.3" fill="none" stroke="#000" stroke-width="4.5" stroke-linejoin="round"/>
<polyline points="1235.6,2083.3 1237.6,2083.1 1239.6,2082.9 1241.6,2082.6 1243.6,2082.3 1245.6,2082.0 1247.6,2081.7 1249.6,2081.3 1251.6,2080.9 1253.6,2080.4 1255.6,2079.9 1257.6,2079.2 1259.6,2078.5 1261.6,2077.7 1263.6,2076.8 1265.6,2075.7 1267.6,2074.5 1269.6,2073.0 1271.6,2071.3 1273.6,2069.3 1275.6,2066.8 1277.6,2063.9 1279.6,2060.4 1281.6,2056.3 1283.6,2051.3 1285.6,2045.5 1287.6,2038.8 1289.6,2031.4 1291.6,2023.8 1293.6,2017.1 1295.6,2012.3 1297.6,2010.5 1299.6,2012.3 1301.6,2017.1 1303.6,2023.8 1305.6,2031.4 1307.6,2038.8 1309.6,2045.5 1311.6,2051.3 1313.6,2056.3 1315.6,2060.4 1317.6,2063.9 1319.6,2066.8 1321.6,2069.3 1323.6,2071.3 1325.6,2073.0 1327.6,2074.5 1329.6,2075.7 1331.6,2076.8 1333.6,2077.7 1335.6,2078.5 1337.6,2079.2 1339.6,2079.9 1341.6,2080.4 1343.6,2080.9 1345.6,2081.3 1347.6,2081.7 1349.6,2082.0 1351.6,2082.3 1353.6,2082.6 1355.6,2082.9 1357.6,2083.1 1359.6,2083.3" fill="none" stroke="#000" stroke-width="4.5" stroke-linejoin="round"/>
<polyline points="1287.0,2083.3 1289.0,2083.1 1291.0,2082.9 1293.0,2082.6 1295.0,2082.3 1297.0,2082.0 1299.0,2081.7 1301.0,2081.3 1303.0,2080.9 1305.0,2080.4 1307.0,2079.9 1309.0,2079.2 1311.0,2078.5 1313.0,2077.7 1315.0,2076.8 1317.0,2075.7 1319.0,2074.5 1321.0,2073.0 1323.0,2071.3 1325.0,2069.3 1327.0,2066.8 1329.0,2063.9 1331.0,2060.4 1333.0,2056.3 1335.0,2051.3 1337.0,2045.5 1339.0,2038.8 1341.0,2031.4 1343.0,2023.8 1345.0,2017.1 1347.0,2012.3 1349.0,2010.5 1351.0,2012.3 1353.0,2017.1 1355.0,2023.8 1357.0,2031.4 1359.0,2038.8 1361.0,2045.5 1363.0,2051.3 1365.0,2056.3 1367.0,2060.4 1369.0,2063.9 1371.0,2066.8 1373.0,2069.3 1375.0,2071.3 1377.0,2073.0 1379.0,2074.5 1381.0,2075.7 1383.0,2076.8 1385.0,2077.7 1387.0,2078.5 1389.0,2079.2 1391.0,2079.9 1393.0,2080.4 1395.0,2080.9 1397.0,2081.3 1399.0,2081.7 1401.0,2082.0 1403.0,2082.3 1405.0,2082.6 1407.0,2082.9 1409.0,2083.1 1411.0,2083.3" fill="none" stroke="#000" stroke-width="4.5" stroke-linejoin="round"/>
<polyline points="1343.7,2083.3 1345.7,2083.1 1347.7,2082.9 1349.7,2082.6 1351.7,2082.3 1353.7,2082.0 1355.7,2081.7 1357.7,2081.3 1359.7,2080.9 1361.7,2080.4 1363.7,2079.9 1365.7,2079.2 1367.7,2078.5 1369.7,2077.7 1371.7,2076.8 1373.7,2075.7 1375.7,2074.5 1377.7,2073.0 1379.7,2071.3 1381.7,2069.3 1383.7,2066.8 1385.7,2063.9 1387.7,2060.4 1389.7,2056.3 1391.7,2051.3 1393.7,2045.5 1395.7,2038.8 1397.7,2031.4 1399.7,2023.8 1401.7,2017.1 1403.7,2012.3 1405.7,2010.5 1407.7,2012.3 1409.7,2017.1 1411.7,2023.8 1413.7,2031.4 1415.7,2038.8 1417.7,2045.5 1419.7,2051.3 1421.7,2056.3 1423.7,2060.4 1425.7,2063.9 1427.7,2066.8 1429.7,2069.3 1431.7,2071.3 1433.7,2073.0 1435.7,2074.5 1437.7,2075.7 1439.7,2076.8 1441.7,2077.7 1443.7,2078.5 1445.7,2079.2 1447.7,2079.9 1449.7,2080.4 1451.7,2080.9 1453.7,2081.3 1455.7,2081.7 1457.7,2082.0 1459.7,2082.3 1461.7,2082.6 1463.7,2082.9 1465.7,2083.1 1467.7,2083.3" fill="none" stroke="#000" stroke-width="4.5" stroke-linejoin="round"/>
<polyline points="1400.5,2083.3 1402.5,2083.1 1404.5,2082.9 1406.5,2082.6 1408.5,2082.3 1410.5,2082.0 1412.5,2081.7 1414.5,2081.3 1416.5,2080.9 1418.5,2080.4 1420.5,2079.9 1422.5,2079.2 1424.5,2078.5 1426.5,2077.7 1428.5,2076.8 1430.5,2075.7 1432.5,2074.5 1434.5,2073.0 1436.5,2071.3 1438.5,2069.3 1440.5,2066.8 1442.5,2063.9 1444.5,2060.4 1446.5,2056.3 1448.5,2051.3 1450.5,2045.5 1452.5,2038.8 1454.5,2031.4 1456.5,2023.8 1458.5,2017.1 1460.5,2012.3 1462.5,2010.5 1464.5,2012.3 1466.5,2017.1 1468.5,2023.8 1470.5,2031.4 1472.5,2038.8 1474.5,2045.5 1476.5,2051.3 1478.5,2056.3 1480.5,2060.4 1482.5,2063.9 1484.5,2066.8 1486.5,2069.3 1488.5,2071.3 1490.5,2073.0 1492.5,2074.5 1494.5,2075.7 1496.5,2076.8 1498.5,2077.7 1500.5,2078.5 1502.5,2079.2 1504.5,2079.9 1506.5,2080.4 1508.5,2080.9 1510.5,2081.3 1512.5,2081.7 1514.5,2082.0 1516.5,2082.3 1518.5,2082.6 1520.5,2082.9 1522.5,2083.1 1524.5,2083.3" fill="none" stroke="#000" stroke-width="4.5" stroke-linejoin="round"/>
<path d="M1023,2086.5 L1521.7,2086.5" stroke="#000" stroke-width="4.5"/>
<text x='1185' y='2128.8' font-size='42' font-family='"Liberation Serif", serif' font-style='italic' textLength='186' lengthAdjust='spacingAndGlyphs'>p(s<tspan font-size='32' dy='10'>t+1</tspan><tspan dy='-10'> | s</tspan><tspan font-size='32' dy='10'>t</tspan><tspan dy='-10'>)</tspan></text>
<rect x="1542" y="1336" width="412" height="371.7" fill="#F0F1F1" stroke="#595959" stroke-width="2.5"/>
<rect x="1542" y="1336" width="151" height="221.6" fill="#000" />
<path d="M1733,1367 C1760,1362 1790,1372 1815,1385 C1850,1400 1880,1420 1895,1450 C1912,1485 1918,1515 1917,1540 C1914,1575 1893,1600 1862,1629 C1835,1652 1800,1668 1759,1677 C1730,1683 1700,1672 1680,1655 C1660,1640 1648,1620 1643,1595 C1640,1575 1648,1568 1665,1568 L1697,1568 C1708,1566 1709,1555 1709.4,1535 L1709.4,1420 C1709.4,1390 1712,1370 1733,1367 Z" fill="#C5E0B4" stroke="#00B050" stroke-width="11"/>
<path d="M1759,1521 L1759,1392" stroke="#7F7F7F" stroke-width="3" stroke-dasharray="9,6" marker-end="url(#ahg)"/>
<path d="M1759,1521 L1888,1521" stroke="#7F7F7F" stroke-width="3" stroke-dasharray="9,6" marker-end="url(#ahg)"/>
<path d="M1759,1521 L1850,1615" stroke="#7F7F7F" stroke-width="3" stroke-dasharray="9,6" marker-end="url(#ahg)"/>
<path d="M1759,1521 L1759,1650" stroke="#7F7F7F" stroke-width="3" stroke-dasharray="9,6" marker-end="url(#ahg)"/>
<path d="M1759,1521 L1668,1610" stroke="#7F7F7F" stroke-width="3" stroke-dasharray="9,6" marker-end="url(#ahg)"/>
<path d="M1765,1515 L1848,1436" stroke="#000" stroke-width="7" stroke-dasharray="14,8" marker-end="url(#ahk)"/>
<defs><marker id="ahk" viewBox="0 0 10 10" refX="9" refY="5" markerWidth="3.2" markerHeight="3.2" orient="auto" markerUnits="strokeWidth"><path d="M0,0 L10,5 L0,10 z" fill="#000"/></marker><marker id="ahr" viewBox="0 0 10 10" refX="9" refY="5" markerWidth="4.5" markerHeight="4.5" orient="auto" markerUnits="strokeWidth"><path d="M0,0 L10,5 L0,10 z" fill="#FF0000"/></marker></defs>
<path d="M1745,1507 L1672,1428" stroke="#FF0000" stroke-width="4" marker-end="url(#ahr)"/>
<path d="M1745,1521 L1630,1521" stroke="#FF0000" stroke-width="4" marker-end="url(#ahr)"/>
<polygon points="1595.5,1391 1628,1391 1614.7,1431 1635.4,1431 1595.5,1488.7 1608.8,1445.8 1588,1445.8" fill="none" stroke="#FF0000" stroke-width="2"/>
<circle cx="1759" cy="1371" r="17.5" fill="#00B050" stroke="#000" stroke-width="2.5"/>
<circle cx="1910" cy="1521" r="17.5" fill="#00B050" stroke="#000" stroke-width="2.5"/>
<circle cx="1862" cy="1629" r="17.5" fill="#00B050" stroke="#000" stroke-width="2.5"/>
<circle cx="1759" cy="1671.6" r="17.5" fill="#00B050" stroke="#000" stroke-width="2.5"/>
<circle cx="1652" cy="1624" r="17.5" fill="#00B050" stroke="#000" stroke-width="2.5"/>
<circle cx="1865.7" cy="1416.8" r="17.5" fill="#FFC000" stroke="#9C6B00" stroke-width="2"/>
<circle cx="1655.5" cy="1411" r="18.5" fill="#FF0000"/><circle cx="1609" cy="1521" r="18.5" fill="#FF0000"/>
<circle cx="1759" cy="1521" r="17" fill="#5B9BD5" stroke="#1F3864" stroke-width="2"/>
<text x='1742' y='1528' font-size='36' font-family='"Liberation Serif", serif' font-style='italic'>s<tspan font-size='28' dy='8'>t</tspan></text>
<text x='1879.6' y='1400' font-size='40' font-family='"Liberation Serif", serif' font-style='italic' textLength='65' lengthAdjust='spacingAndGlyphs'>s<tspan font-size='30' dy='9'>t+1</tspan></text>
<circle cx="1556" cy="1731.4" r="9.5" fill="#5B9BD5" stroke="#1F3864" stroke-width="2"/>
<text x="1571.4" y="1739.0" font-size="22" fill="#000" font-weight="bold" textLength="164.9" lengthAdjust="spacingAndGlyphs" >Current Position</text>
<circle cx="1770" cy="1731.4" r="9.5" fill="#FFC000" stroke="#7F6000" stroke-width="2"/>
<text x="1786.7" y="1739.0" font-size="22" fill="#000" font-weight="bold" textLength="151.6" lengthAdjust="spacingAndGlyphs" >Target Position</text>
<circle cx="1556" cy="1765.4" r="9.5" fill="#00B050" stroke="#1F3864" stroke-width="2"/>
<text x="1571.4" y="1773.0" font-size="22" fill="#000" font-weight="bold" textLength="155.6" lengthAdjust="spacingAndGlyphs" >Common Sense</text>
<circle cx="1770" cy="1765.4" r="10" fill="#FF0000"/>
<text x="1786.7" y="1773.0" font-size="22" fill="#000" font-weight="bold" textLength="70.6" lengthAdjust="spacingAndGlyphs" >Unsafe</text>
<rect x="1546" y="1787.6" width="20.8" height="19.2" fill="#000" />
<text x="1571.4" y="1806.0" font-size="22" fill="#000" font-weight="bold" textLength="84.6" lengthAdjust="spacingAndGlyphs" >Obstacle</text>
<rect x="1762" y="1788.6" width="19" height="18" fill="#F0F1F1" stroke="#1F3864" stroke-width="2"/>
<text x="1786.7" y="1806.0" font-size="22" fill="#000" font-weight="bold" textLength="103.1" lengthAdjust="spacingAndGlyphs" >Free space</text>
<rect x="1500" y="1832" width="503.7" height="64.5" fill="#E7E6E6" />
<text x="1515.8" y="1877.4" font-size="37" fill="#000" font-weight="bold" font-style="italic" textLength="467.4" lengthAdjust="spacingAndGlyphs" >Common Sense Initialization</text>
<rect x="1745" y="1896.5" width="13.4" height="38.5" fill="#000" />
<rect x="1745" y="1949" width="13.4" height="39.6" fill="#000" />
<rect x="1720" y="2003" width="38.4" height="13.3" fill="#000" />
<rect x="1667.2" y="2003" width="39.5" height="13.3" fill="#000" />
<rect x="1614.2" y="2003" width="39.5" height="13.3" fill="#000" />
<rect x="1586.6" y="2003" width="13.8" height="13.3" fill="#000" />
<polygon points="1547.7,2009.6 1586.6,1990 1586.6,2029.5" fill="#000"/>
<rect x="103" y="2165" width="1827" height="3" fill="#000" />
<text x="342.8" y="2243.2" font-size="47" fill="#000" font-weight="bold" font-style="italic" textLength="161.7" lengthAdjust="spacingAndGlyphs" >Results</text>
<path d="M127.0,2299.2 L135.1,2310.0 C140.5,2299.2 147.2,2290.8 154.0,2286.0" fill="none" stroke="#000" stroke-width="3.5"/>
<path d="M127.0,2467.2 L135.1,2478.0 C140.5,2467.2 147.2,2458.8 154.0,2454.0" fill="none" stroke="#000" stroke-width="3.5"/>
<text x="166.5" y="2314.6" font-size="38" fill="#000" textLength="459.6" lengthAdjust="spacingAndGlyphs" >CSI improves performance</text>
<text x="166.5" y="2364.0" font-size="38" fill="#000" textLength="368.8" lengthAdjust="spacingAndGlyphs" >compared to random</text>
<text x="166.5" y="2412.6" font-size="38" fill="#000" textLength="285.8" lengthAdjust="spacingAndGlyphs" >initialization (RI)</text>
<text x="171.7" y="2483.7" font-size="38" fill="#000" textLength="431.4" lengthAdjust="spacingAndGlyphs" >Practical relevance when</text>
<text x="171.7" y="2533.0" font-size="38" fill="#000" textLength="332.3" lengthAdjust="spacingAndGlyphs" >the true number of</text>
<text x="171.7" y="2581.7" font-size="38" fill="#000" textLength="426.6" lengthAdjust="spacingAndGlyphs" >components is unknown</text>
<text x="171.7" y="2631.6" font-size="38" fill="#000" textLength="327.9" lengthAdjust="spacingAndGlyphs" >and overestimated</text>
<rect x="760" y="2192.4" width="543.8" height="467.6" fill="#EAEAF2"/>
<path d="M760,2625.3 L1303.8,2625.3" stroke="#fff" stroke-width="2.2"/>
<path d="M760,2555.0 L1303.8,2555.0" stroke="#fff" stroke-width="2.2"/>
<path d="M760,2484.8 L1303.8,2484.8" stroke="#fff" stroke-width="2.2"/>
<path d="M760,2414.5 L1303.8,2414.5" stroke="#fff" stroke-width="2.2"/>
<path d="M760,2344.2 L1303.8,2344.2" stroke="#fff" stroke-width="2.2"/>
<path d="M760,2273.9 L1303.8,2273.9" stroke="#fff" stroke-width="2.2"/>
<path d="M760,2203.7 L1303.8,2203.7" stroke="#fff" stroke-width="2.2"/>
<path d="M889.1,2192.4 L889.1,2660" stroke="#fff" stroke-width="2.2"/>
<path d="M1020.0,2192.4 L1020.0,2660" stroke="#fff" stroke-width="2.2"/>
<path d="M1150.8,2192.4 L1150.8,2660" stroke="#fff" stroke-width="2.2"/>
<path d="M1281.7,2192.4 L1281.7,2660" stroke="#fff" stroke-width="2.2"/>
<polygon points="807.3,2583.1 889.1,2265.5 1052.7,2212.1 1281.7,2330.1 1281.7,2470.7 1052.7,2442.6 889.1,2510.0 807.3,2611.2" fill="#8172B3" fill-opacity="0.2" stroke="#8172B3" stroke-opacity="0.25" stroke-width="1"/>
<polygon points="889.1,2549.4 1052.7,2600.0 1281.7,2594.4 1281.7,2639.4 1052.7,2630.9 889.1,2602.8" fill="#55A868" fill-opacity="0.2" stroke="#55A868" stroke-opacity="0.25" stroke-width="1"/>
<polyline points="807.3,2597.2 889.1,2386.4 1052.7,2313.3 1281.7,2406.0" fill="none" stroke="#8172B3" stroke-width="3.2" stroke-linejoin="round"/>
<polyline points="889.1,2574.7 1052.7,2618.3 1281.7,2619.7" fill="none" stroke="#55A868" stroke-width="3.2" stroke-linejoin="round"/>
<path d="M807.3,2192.4 L807.3,2660" stroke="#000" stroke-width="3" stroke-dasharray="11,6"/>
<text x="736.5" y="2635.8" font-size="29" fill="#262626" text-anchor="end">75</text>
<text x="736.5" y="2565.5" font-size="29" fill="#262626" text-anchor="end">100</text>
<text x="736.5" y="2495.2" font-size="29" fill="#262626" text-anchor="end">125</text>
<text x="736.5" y="2425.0" font-size="29" fill="#262626" text-anchor="end">150</text>
<text x="736.5" y="2354.7" font-size="29" fill="#262626" text-anchor="end">175</text>
<text x="736.5" y="2284.4" font-size="29" fill="#262626" text-anchor="end">200</text>
<text x="736.5" y="2214.2" font-size="29" fill="#262626" text-anchor="end">225</text>
<text x="758.2" y="2701.7" font-size="29" fill="#262626" text-anchor="middle">0</text>
<text x="889.1" y="2701.7" font-size="29" fill="#262626" text-anchor="middle">8</text>
<text x="1020.0" y="2701.7" font-size="29" fill="#262626" text-anchor="middle">16</text>
<text x="1150.8" y="2701.7" font-size="29" fill="#262626" text-anchor="middle">24</text>
<text x="1281.7" y="2701.7" font-size="29" fill="#262626" text-anchor="middle">32</text>
<text x="1031.4" y="2735" font-size="30" fill="#262626" text-anchor="middle">K</text>
<text x="0" y="0" font-size="30" fill="#262626" text-anchor="middle" transform="translate(675,2426) rotate(-90)">ADE</text>
<rect x="937.3" y="2205" width="354" height="91" rx="5" fill="#EEEEF4" fill-opacity="0.85" stroke="#CCCCCC" stroke-width="2"/>
<path d="M947.3,2228.5 L1006.9,2228.5" stroke="#8172B3" stroke-width="3.2"/>
<path d="M947.3,2269.3 L1006.9,2269.3" stroke="#55A868" stroke-width="3.2"/>
<text x="1028.3" y="2239.3" font-size="32" fill="#262626" textLength="63" lengthAdjust="spacingAndGlyphs">w/ RI</text>
<text x="1028.3" y="2279" font-size="32" fill="#262626" textLength="82" lengthAdjust="spacingAndGlyphs">w/ CSI</text>
<path d="M1168.9,2228.5 L1225.8,2228.5" stroke="#000" stroke-width="3" stroke-dasharray="11,5"/>
<text x="1248.3" y="2239.3" font-size="32" font-style="italic" fill="#262626">K<tspan font-size="22" dy="-14">*</tspan></text>
<rect x="1416.5" y="2192.4" width="543.8" height="467.6" fill="#EAEAF2"/>
<path d="M1416.5,2596.4 L1960.3,2596.4" stroke="#fff" stroke-width="2.2"/>
<path d="M1416.5,2528.8 L1960.3,2528.8" stroke="#fff" stroke-width="2.2"/>
<path d="M1416.5,2461.2 L1960.3,2461.2" stroke="#fff" stroke-width="2.2"/>
<path d="M1416.5,2393.6 L1960.3,2393.6" stroke="#fff" stroke-width="2.2"/>
<path d="M1416.5,2326.0 L1960.3,2326.0" stroke="#fff" stroke-width="2.2"/>
<path d="M1416.5,2258.4 L1960.3,2258.4" stroke="#fff" stroke-width="2.2"/>
<path d="M1546.1,2192.4 L1546.1,2660" stroke="#fff" stroke-width="2.2"/>
<path d="M1676.9,2192.4 L1676.9,2660" stroke="#fff" stroke-width="2.2"/>
<path d="M1807.7,2192.4 L1807.7,2660" stroke="#fff" stroke-width="2.2"/>
<path d="M1938.5,2192.4 L1938.5,2660" stroke="#fff" stroke-width="2.2"/>
<polygon points="1464.3,2585.6 1546.1,2213.8 1709.6,2330.1 1938.5,2265.2 1938.5,2495.0 1709.6,2596.4 1546.1,2484.2 1464.3,2596.4" fill="#4C72B0" fill-opacity="0.2" stroke="#4C72B0" stroke-opacity="0.25" stroke-width="1"/>
<polygon points="1546.1,2519.3 1709.6,2630.2 1938.5,2620.7 1938.5,2637.0 1709.6,2637.0 1546.1,2605.9" fill="#DD8452" fill-opacity="0.2" stroke="#DD8452" stroke-opacity="0.25" stroke-width="1"/>
<polyline points="1464.3,2589.6 1546.1,2346.3 1709.6,2476.1 1938.5,2400.4" fill="none" stroke="#4C72B0" stroke-width="3.2" stroke-linejoin="round"/>
<polyline points="1546.1,2562.6 1709.6,2634.3 1938.5,2628.8" fill="none" stroke="#DD8452" stroke-width="3.2" stroke-linejoin="round"/>
<path d="M1464.3,2192.4 L1464.3,2660" stroke="#000" stroke-width="3" stroke-dasharray="11,6"/>
<text x="1392.8" y="2606.9" font-size="29" fill="#262626" text-anchor="end">50</text>
<text x="1392.8" y="2539.3" font-size="29" fill="#262626" text-anchor="end">100</text>
<text x="1392.8" y="2471.7" font-size="29" fill="#262626" text-anchor="end">150</text>
<text x="1392.8" y="2404.1" font-size="29" fill="#262626" text-anchor="end">200</text>
<text x="1392.8" y="2336.5" font-size="29" fill="#262626" text-anchor="end">250</text>
<text x="1392.8" y="2268.9" font-size="29" fill="#262626" text-anchor="end">300</text>
<text x="1415.3" y="2701.7" font-size="29" fill="#262626" text-anchor="middle">0</text>
<text x="1546.1" y="2701.7" font-size="29" fill="#262626" text-anchor="middle">8</text>
<text x="1676.9" y="2701.7" font-size="29" fill="#262626" text-anchor="middle">16</text>
<text x="1807.7" y="2701.7" font-size="29" fill="#262626" text-anchor="middle">24</text>
<text x="1938.5" y="2701.7" font-size="29" fill="#262626" text-anchor="middle">32</text>
<text x="1688.3" y="2735" font-size="30" fill="#262626" text-anchor="middle">K</text>
<text x="0" y="0" font-size="30" fill="#262626" text-anchor="middle" transform="translate(1335,2426) rotate(-90)">FDE</text>
<rect x="1594.3" y="2205" width="354" height="91" rx="5" fill="#EEEEF4" fill-opacity="0.85" stroke="#CCCCCC" stroke-width="2"/>
<path d="M1604.3,2228.5 L1663.9,2228.5" stroke="#4C72B0" stroke-width="3.2"/>
<path d="M1604.3,2269.3 L1663.9,2269.3" stroke="#DD8452" stroke-width="3.2"/>
<text x="1685.3" y="2239.3" font-size="32" fill="#262626" textLength="63" lengthAdjust="spacingAndGlyphs">w/ RI</text>
<text x="1685.3" y="2279" font-size="32" fill="#262626" textLength="82" lengthAdjust="spacingAndGlyphs">w/ CSI</text>
<path d="M1825.9,2228.5 L1882.8,2228.5" stroke="#000" stroke-width="3" stroke-dasharray="11,5"/>
<text x="1905.3" y="2239.3" font-size="32" font-style="italic" fill="#262626">K<tspan font-size="22" dy="-14">*</tspan></text>
<rect x="103" y="2742" width="1827" height="2.5" fill="#000" />
<path d="M43.2,2827.5 L33.6,2833.0 M41.2,2823.4 L30.9,2827.4 M39.8,2819.0 L29.1,2821.4 M39.1,2814.4 L28.1,2815.3 M39.1,2809.8 L28.1,2809.1 M39.7,2805.3 L29.0,2802.9 M41.1,2800.9 L30.8,2796.9 M43.0,2796.7 L33.4,2791.3 M45.6,2792.9 L36.9,2786.1 M48.7,2789.5 L41.1,2781.5 M52.2,2786.6 L45.9,2777.6 M56.2,2784.3 L51.3,2774.4 M60.4,2782.5 L57.0,2772.1 M64.9,2781.4 L63.1,2770.6 M69.5,2781.0 L69.3,2770.0 M74.0,2781.3 L75.5,2770.4 M78.5,2782.2 L81.6,2771.6 M44.1,2828.2 A30.5,30.5 0 0 1 81.4,2783.7 M34.0,2834.5 A42.5,42.5 0 0 1 85.9,2772.6" fill="none" stroke="#111" stroke-width="1.5"/>
<path d="M90,2780 C94,2792 98,2805 102.5,2819 C100,2822 96,2823 96,2826 C97,2828 98,2830 95,2831 C97,2834 98,2836 97,2838 C94,2841 88,2841 85,2842 L86.5,2853 M53,2855 C65,2852 80,2851 93,2851" fill="none" stroke="#111" stroke-width="1.6"/>
<path d="M40,2834 L90,2782 M44,2838 L93,2788 M48,2841 L96,2794" fill="none" stroke="#111" stroke-width="1.5"/>
<g fill="none" stroke="#111" stroke-width="1.3"><circle cx="56" cy="2815" r="7"/><circle cx="56" cy="2815" r="3.5"/><circle cx="57" cy="2843" r="7"/><circle cx="57" cy="2843" r="3"/><circle cx="68" cy="2792" r="5"/><circle cx="80" cy="2790" r="4"/><circle cx="68" cy="2832" r="3"/><path d="M42,2800 C50,2792 60,2788 72,2786 M40,2822 C44,2812 50,2806 60,2800 M64,2806 C70,2800 78,2798 84,2800 M80,2812 L86,2812"/></g>
<g fill="none" stroke="#111" stroke-width="1.2"><circle cx="56" cy="2815" r="10.5"/><circle cx="57" cy="2843" r="10"/><path d="M45,2826 C52,2822 60,2826 64,2832 M47,2793 C56,2788 64,2786 74,2786 M52,2806 C60,2800 70,2796 80,2796 M76,2804 C80,2806 84,2808 88,2806"/><path d="M60,2780 L63,2774 M66,2779 L68,2773 M72,2779 L74,2773 M78,2780 L80,2774"/><path d="M36,2820 C40,2816 44,2816 46,2818 M38,2830 C42,2828 46,2830 48,2832"/><ellipse cx="87" cy="2807" rx="4" ry="2"/></g>
<text x="119.9" y="2795.0" font-size="24" fill="#111" textLength="144.6" lengthAdjust="spacingAndGlyphs" >TECHNISCHE</text>
<text x="119.9" y="2821.3" font-size="24" fill="#111" textLength="144.6" lengthAdjust="spacingAndGlyphs" >UNIVERSITÄT</text>
<text x="119.9" y="2846.6" font-size="24" fill="#111" textLength="144.6" lengthAdjust="spacingAndGlyphs" >DARMSTADT</text>
<rect x="283" y="2759" width="142" height="85.7" rx="7" fill="#9A1B25"/>
<circle cx="321.4" cy="2775.6" r="10.8" fill="none" stroke="#fff" stroke-width="5.5"/>
<path d="M298,2845 C302,2822 310,2800 325,2798 C333,2797 337,2806 339,2816" fill="none" stroke="#fff" stroke-width="5.5"/>
<rect x="339.5" y="2822.5" width="7" height="7" fill="#fff" transform="rotate(45 343 2826)"/>
<rect x="353.5" y="2831.3" width="7" height="7" fill="#fff" transform="rotate(45 357 2834.8)"/>
<rect x="370.7" y="2828.9" width="8" height="8" fill="#fff" transform="rotate(45 374.7 2832.9)"/>
<rect x="387.9" y="2818.5" width="9" height="9" fill="#fff" transform="rotate(45 392.4 2823)"/>
<rect x="404.2" y="2803.2" width="10" height="10" fill="#fff" transform="rotate(45 409.2 2808.2)"/>
<rect x="424" y="2784" width="16" height="16" fill="#fff" transform="rotate(45 432 2792)"/>
<rect x="426.5" y="2786.5" width="11" height="11" fill="#9A1B25" transform="rotate(45 432 2792)"/>
<text x="293.8" y="2865.4" font-size="17" fill="#B04A4A" textLength="148.0" lengthAdjust="spacingAndGlyphs" >Telecooperation Lab</text>
<path d="M497,2773.7 C512,2769 532,2771 544,2780 C554,2788 560,2797 567,2803 C566,2812 568,2822 572,2835 C570,2842 566,2844 562,2848 C556,2852 550,2855 546,2858.5 C548,2850 547,2840 544,2832 C542,2822 540,2812 535,2803 C530,2795 522,2786 513,2780 C507,2776 502,2775 497,2773.7 Z" fill="#3A3F55"/>
<rect x="527" y="2781" width="3" height="3" fill="#fff" />
<rect x="536" y="2795" width="4" height="4" fill="#fff" />
<rect x="544" y="2819" width="3" height="3" fill="#fff" />
<rect x="541" y="2830" width="4" height="4" fill="#fff" />
<rect x="553" y="2842" width="4" height="4" fill="#fff" />
<rect x="472" y="2778" width="3" height="3" fill="#C8DC6A" />
<rect x="486" y="2783" width="6" height="6" fill="#BFD85A" />
<rect x="498" y="2781" width="7" height="7" fill="#C5DB5A" />
<rect x="507" y="2786" width="6" height="6" fill="#B8D460" />
<rect x="511" y="2793" width="7" height="7" fill="#A9CF55" />
<rect x="474" y="2797" width="5" height="5" fill="#B5D55E" />
<rect x="486" y="2796" width="9" height="9" fill="#C2DA5C" />
<rect x="500" y="2794" width="11" height="11" fill="#B6D65A" />
<rect x="516" y="2797" width="9" height="9" fill="#8CC55A" />
<rect x="527" y="2802" width="3" height="3" fill="#7CC060" />
<rect x="470" y="2815" width="6" height="6" fill="#AED45C" />
<rect x="486" y="2811" width="8" height="8" fill="#9ACB58" />
<rect x="502" y="2810" width="9" height="9" fill="#6CB85A" />
<rect x="518" y="2810" width="9" height="9" fill="#5EB55C" />
<rect x="532" y="2812" width="3" height="3" fill="#6FC1A0" />
<rect x="467" y="2821" width="3" height="3" fill="#B5D55E" />
<rect x="491" y="2825" width="6" height="6" fill="#7CC05A" />
<rect x="507" y="2826" width="7" height="7" fill="#6BBF6A" />
<rect x="521" y="2826" width="6" height="6" fill="#79C3B0" />
<rect x="534" y="2820" width="3" height="3" fill="#7CC8D8" />
<rect x="483" y="2845" width="8" height="8" fill="#5DB85C" />
<rect x="500" y="2838" width="6" height="6" fill="#6EC08E" />
<rect x="514" y="2840" width="4" height="4" fill="#82CBD6" />
<rect x="524" y="2836" width="7" height="7" fill="#8ED2EE" />
<rect x="502" y="2848" width="3" height="3" fill="#6EC8D8" />
<rect x="527" y="2849" width="3" height="3" fill="#7CC8E8" />
<path d="M470,2823 L490,2800 M487,2830 L520,2798 M503,2850 L532,2815 M516,2852 L540,2826" stroke="#7CBF60" stroke-width="1.3" fill="none"/>
<text x="598" y="2844" font-size="78" font-weight="bold" fill="#3A4450" stroke="#3A4450" stroke-width="5" stroke-linejoin="round" textLength="190" lengthAdjust="spacingAndGlyphs">ICLR</text>
<rect x="599" y="2843" width="192" height="3" fill="#3A4450" />
<text x="1081.6" y="2795.3" font-size="40" fill="#000" textLength="287.6" lengthAdjust="spacingAndGlyphs" >Contact details:</text>
<text x="829.3" y="2851.0" font-size="40" fill="#000" textLength="791.0" lengthAdjust="spacingAndGlyphs" >{kreutz,max,sanchez}@tk.tu-darmstadt.de</text>
<rect x="1665.8" y="2762" width="54.8" height="96.8" rx="4" fill="none" stroke="#000" stroke-width="2.5"/>
<rect x="1672.5" y="2774" width="42.2" height="73" fill="none" stroke="#000" stroke-width="2"/>
<rect x="1688" y="2766.5" width="11" height="2.5" fill="#000" />
<text x="1744.1" y="2805.0" font-size="32" fill="#1F74C4" font-weight="bold" textLength="141.8" lengthAdjust="spacingAndGlyphs" >full paper</text>
<rect x="1736.0" y="2822" width="6.5" height="7" fill="#1F74C4" />
<rect x="1749.4" y="2822" width="6.5" height="7" fill="#1F74C4" />
<rect x="1762.8" y="2822" width="6.5" height="7" fill="#1F74C4" />
<rect x="1776.2" y="2822" width="6.5" height="7" fill="#1F74C4" />
<rect x="1789.6" y="2822" width="6.5" height="7" fill="#1F74C4" />
<rect x="1803.0" y="2822" width="6.5" height="7" fill="#1F74C4" />
<rect x="1816.4" y="2822" width="6.5" height="7" fill="#1F74C4" />
<rect x="1829.8" y="2822" width="6.5" height="7" fill="#1F74C4" />
<rect x="1843.2" y="2822" width="6.5" height="7" fill="#1F74C4" />
<rect x="1856.6" y="2822" width="6.5" height="7" fill="#1F74C4" />
<rect x="1870.0" y="2822" width="6.5" height="7" fill="#1F74C4" />
<polygon points="1880,2813 1900,2825.5 1880,2838" fill="#1F74C4"/>
<path d="M1937.8,2762.0h3.68v3.68h-3.68zM1948.8,2762.0h3.68v3.68h-3.68zM1959.8,2762.0h3.68v3.68h-3.68zM1974.6,2762.0h3.68v3.68h-3.68zM1937.8,2765.7h3.68v3.68h-3.68zM1941.4,2765.7h3.68v3.68h-3.68zM1952.5,2765.7h3.68v3.68h-3.68zM1970.9,2765.7h3.68v3.68h-3.68zM1974.6,2765.7h3.68v3.68h-3.68zM1941.4,2769.4h3.68v3.68h-3.68zM1945.1,2769.4h3.68v3.68h-3.68zM1948.8,2769.4h3.68v3.68h-3.68zM1952.5,2769.4h3.68v3.68h-3.68zM1956.2,2769.4h3.68v3.68h-3.68zM1959.8,2769.4h3.68v3.68h-3.68zM1974.6,2769.4h3.68v3.68h-3.68zM1941.4,2773.0h3.68v3.68h-3.68zM1945.1,2773.0h3.68v3.68h-3.68zM1963.5,2773.0h3.68v3.68h-3.68zM1967.2,2773.0h3.68v3.68h-3.68zM1970.9,2773.0h3.68v3.68h-3.68zM1974.6,2773.0h3.68v3.68h-3.68zM1941.4,2776.7h3.68v3.68h-3.68zM1948.8,2776.7h3.68v3.68h-3.68zM1959.8,2776.7h3.68v3.68h-3.68zM1963.5,2776.7h3.68v3.68h-3.68zM1970.9,2776.7h3.68v3.68h-3.68zM1937.8,2780.4h3.68v3.68h-3.68zM1941.4,2780.4h3.68v3.68h-3.68zM1952.5,2780.4h3.68v3.68h-3.68zM1956.2,2780.4h3.68v3.68h-3.68zM1959.8,2780.4h3.68v3.68h-3.68zM1970.9,2780.4h3.68v3.68h-3.68zM1974.6,2780.4h3.68v3.68h-3.68zM1937.8,2784.1h3.68v3.68h-3.68zM1941.4,2784.1h3.68v3.68h-3.68zM1948.8,2784.1h3.68v3.68h-3.68zM1956.2,2784.1h3.68v3.68h-3.68zM1959.8,2784.1h3.68v3.68h-3.68zM1967.2,2784.1h3.68v3.68h-3.68zM1974.6,2784.1h3.68v3.68h-3.68zM1912.0,2787.8h3.68v3.68h-3.68zM1915.7,2787.8h3.68v3.68h-3.68zM1919.4,2787.8h3.68v3.68h-3.68zM1930.4,2787.8h3.68v3.68h-3.68zM1937.8,2787.8h3.68v3.68h-3.68zM1941.4,2787.8h3.68v3.68h-3.68zM1952.5,2787.8h3.68v3.68h-3.68zM1959.8,2787.8h3.68v3.68h-3.68zM1963.5,2787.8h3.68v3.68h-3.68zM1970.9,2787.8h3.68v3.68h-3.68zM1974.6,2787.8h3.68v3.68h-3.68zM1978.2,2787.8h3.68v3.68h-3.68zM1981.9,2787.8h3.68v3.68h-3.68zM1989.3,2787.8h3.68v3.68h-3.68zM1996.6,2787.8h3.68v3.68h-3.68zM2000.3,2787.8h3.68v3.68h-3.68zM1915.7,2791.4h3.68v3.68h-3.68zM1926.7,2791.4h3.68v3.68h-3.68zM1930.4,2791.4h3.68v3.68h-3.68zM1941.4,2791.4h3.68v3.68h-3.68zM1945.1,2791.4h3.68v3.68h-3.68zM1956.2,2791.4h3.68v3.68h-3.68zM1970.9,2791.4h3.68v3.68h-3.68zM1974.6,2791.4h3.68v3.68h-3.68zM1978.2,2791.4h3.68v3.68h-3.68zM1985.6,2791.4h3.68v3.68h-3.68zM1993.0,2791.4h3.68v3.68h-3.68zM1912.0,2795.1h3.68v3.68h-3.68zM1915.7,2795.1h3.68v3.68h-3.68zM1923.0,2795.1h3.68v3.68h-3.68zM1926.7,2795.1h3.68v3.68h-3.68zM1941.4,2795.1h3.68v3.68h-3.68zM1948.8,2795.1h3.68v3.68h-3.68zM1952.5,2795.1h3.68v3.68h-3.68zM1956.2,2795.1h3.68v3.68h-3.68zM1959.8,2795.1h3.68v3.68h-3.68zM1963.5,2795.1h3.68v3.68h-3.68zM1967.2,2795.1h3.68v3.68h-3.68zM1970.9,2795.1h3.68v3.68h-3.68zM1978.2,2795.1h3.68v3.68h-3.68zM1981.9,2795.1h3.68v3.68h-3.68zM1912.0,2798.8h3.68v3.68h-3.68zM1915.7,2798.8h3.68v3.68h-3.68zM1919.4,2798.8h3.68v3.68h-3.68zM1934.1,2798.8h3.68v3.68h-3.68zM1941.4,2798.8h3.68v3.68h-3.68zM1948.8,2798.8h3.68v3.68h-3.68zM1956.2,2798.8h3.68v3.68h-3.68zM1985.6,2798.8h3.68v3.68h-3.68zM2000.3,2798.8h3.68v3.68h-3.68zM1926.7,2802.5h3.68v3.68h-3.68zM1937.8,2802.5h3.68v3.68h-3.68zM1956.2,2802.5h3.68v3.68h-3.68zM1967.2,2802.5h3.68v3.68h-3.68zM1974.6,2802.5h3.68v3.68h-3.68zM1981.9,2802.5h3.68v3.68h-3.68zM1989.3,2802.5h3.68v3.68h-3.68zM1993.0,2802.5h3.68v3.68h-3.68zM2000.3,2802.5h3.68v3.68h-3.68zM1919.4,2806.2h3.68v3.68h-3.68zM1923.0,2806.2h3.68v3.68h-3.68zM1926.7,2806.2h3.68v3.68h-3.68zM1934.1,2806.2h3.68v3.68h-3.68zM1937.8,2806.2h3.68v3.68h-3.68zM1948.8,2806.2h3.68v3.68h-3.68zM1956.2,2806.2h3.68v3.68h-3.68zM1963.5,2806.2h3.68v3.68h-3.68zM1967.2,2806.2h3.68v3.68h-3.68zM1981.9,2806.2h3.68v3.68h-3.68zM1989.3,2806.2h3.68v3.68h-3.68zM1993.0,2806.2h3.68v3.68h-3.68zM1996.6,2806.2h3.68v3.68h-3.68zM1923.0,2809.8h3.68v3.68h-3.68zM1926.7,2809.8h3.68v3.68h-3.68zM1930.4,2809.8h3.68v3.68h-3.68zM1934.1,2809.8h3.68v3.68h-3.68zM1937.8,2809.8h3.68v3.68h-3.68zM1941.4,2809.8h3.68v3.68h-3.68zM1948.8,2809.8h3.68v3.68h-3.68zM1952.5,2809.8h3.68v3.68h-3.68zM1963.5,2809.8h3.68v3.68h-3.68zM1967.2,2809.8h3.68v3.68h-3.68zM1970.9,2809.8h3.68v3.68h-3.68zM1978.2,2809.8h3.68v3.68h-3.68zM1989.3,2809.8h3.68v3.68h-3.68zM1996.6,2809.8h3.68v3.68h-3.68zM2000.3,2809.8h3.68v3.68h-3.68zM1912.0,2813.5h3.68v3.68h-3.68zM1915.7,2813.5h3.68v3.68h-3.68zM1923.0,2813.5h3.68v3.68h-3.68zM1926.7,2813.5h3.68v3.68h-3.68zM1930.4,2813.5h3.68v3.68h-3.68zM1937.8,2813.5h3.68v3.68h-3.68zM1959.8,2813.5h3.68v3.68h-3.68zM1963.5,2813.5h3.68v3.68h-3.68zM1967.2,2813.5h3.68v3.68h-3.68zM1970.9,2813.5h3.68v3.68h-3.68zM1974.6,2813.5h3.68v3.68h-3.68zM1981.9,2813.5h3.68v3.68h-3.68zM1985.6,2813.5h3.68v3.68h-3.68zM1989.3,2813.5h3.68v3.68h-3.68zM1915.7,2817.2h3.68v3.68h-3.68zM1926.7,2817.2h3.68v3.68h-3.68zM1937.8,2817.2h3.68v3.68h-3.68zM1941.4,2817.2h3.68v3.68h-3.68zM1952.5,2817.2h3.68v3.68h-3.68zM1970.9,2817.2h3.68v3.68h-3.68zM1978.2,2817.2h3.68v3.68h-3.68zM1996.6,2817.2h3.68v3.68h-3.68zM1926.7,2820.9h3.68v3.68h-3.68zM1937.8,2820.9h3.68v3.68h-3.68zM1941.4,2820.9h3.68v3.68h-3.68zM1945.1,2820.9h3.68v3.68h-3.68zM1956.2,2820.9h3.68v3.68h-3.68zM1959.8,2820.9h3.68v3.68h-3.68zM1967.2,2820.9h3.68v3.68h-3.68zM1974.6,2820.9h3.68v3.68h-3.68zM1978.2,2820.9h3.68v3.68h-3.68zM1985.6,2820.9h3.68v3.68h-3.68zM1989.3,2820.9h3.68v3.68h-3.68zM1919.4,2824.6h3.68v3.68h-3.68zM1926.7,2824.6h3.68v3.68h-3.68zM1930.4,2824.6h3.68v3.68h-3.68zM1937.8,2824.6h3.68v3.68h-3.68zM1959.8,2824.6h3.68v3.68h-3.68zM1963.5,2824.6h3.68v3.68h-3.68zM1974.6,2824.6h3.68v3.68h-3.68zM1993.0,2824.6h3.68v3.68h-3.68zM1941.4,2828.2h3.68v3.68h-3.68zM1952.5,2828.2h3.68v3.68h-3.68zM1963.5,2828.2h3.68v3.68h-3.68zM1970.9,2828.2h3.68v3.68h-3.68zM1978.2,2828.2h3.68v3.68h-3.68zM1989.3,2828.2h3.68v3.68h-3.68zM1993.0,2828.2h3.68v3.68h-3.68zM1996.6,2828.2h3.68v3.68h-3.68zM2000.3,2828.2h3.68v3.68h-3.68zM1945.1,2831.9h3.68v3.68h-3.68zM1948.8,2831.9h3.68v3.68h-3.68zM1952.5,2831.9h3.68v3.68h-3.68zM1963.5,2831.9h3.68v3.68h-3.68zM1970.9,2831.9h3.68v3.68h-3.68zM1974.6,2831.9h3.68v3.68h-3.68zM1978.2,2831.9h3.68v3.68h-3.68zM1985.6,2831.9h3.68v3.68h-3.68zM1989.3,2831.9h3.68v3.68h-3.68zM1996.6,2831.9h3.68v3.68h-3.68zM1937.8,2835.6h3.68v3.68h-3.68zM1945.1,2835.6h3.68v3.68h-3.68zM1948.8,2835.6h3.68v3.68h-3.68zM1956.2,2835.6h3.68v3.68h-3.68zM1959.8,2835.6h3.68v3.68h-3.68zM1963.5,2835.6h3.68v3.68h-3.68zM1970.9,2835.6h3.68v3.68h-3.68zM1974.6,2835.6h3.68v3.68h-3.68zM2000.3,2835.6h3.68v3.68h-3.68zM1948.8,2839.3h3.68v3.68h-3.68zM1952.5,2839.3h3.68v3.68h-3.68zM1959.8,2839.3h3.68v3.68h-3.68zM1970.9,2839.3h3.68v3.68h-3.68zM1974.6,2839.3h3.68v3.68h-3.68zM1981.9,2839.3h3.68v3.68h-3.68zM1985.6,2839.3h3.68v3.68h-3.68zM1993.0,2839.3h3.68v3.68h-3.68zM2000.3,2839.3h3.68v3.68h-3.68zM1937.8,2843.0h3.68v3.68h-3.68zM1945.1,2843.0h3.68v3.68h-3.68zM1948.8,2843.0h3.68v3.68h-3.68zM1963.5,2843.0h3.68v3.68h-3.68zM1981.9,2843.0h3.68v3.68h-3.68zM1985.6,2843.0h3.68v3.68h-3.68zM1989.3,2843.0h3.68v3.68h-3.68zM1993.0,2843.0h3.68v3.68h-3.68zM1941.4,2846.6h3.68v3.68h-3.68zM1945.1,2846.6h3.68v3.68h-3.68zM1948.8,2846.6h3.68v3.68h-3.68zM1963.5,2846.6h3.68v3.68h-3.68zM1967.2,2846.6h3.68v3.68h-3.68zM1974.6,2846.6h3.68v3.68h-3.68zM1981.9,2846.6h3.68v3.68h-3.68zM1985.6,2846.6h3.68v3.68h-3.68zM1993.0,2846.6h3.68v3.68h-3.68zM2000.3,2846.6h3.68v3.68h-3.68zM1945.1,2850.3h3.68v3.68h-3.68zM1948.8,2850.3h3.68v3.68h-3.68zM1956.2,2850.3h3.68v3.68h-3.68zM1959.8,2850.3h3.68v3.68h-3.68zM1963.5,2850.3h3.68v3.68h-3.68zM1970.9,2850.3h3.68v3.68h-3.68zM1993.0,2850.3h3.68v3.68h-3.68z" fill="#000"/>
<rect x="1913.8" y="2763.8" width="22.1" height="22.1" fill="none" stroke="#000" stroke-width="3.7"/>
<rect x="1919.4" y="2769.4" width="11.0" height="11.0" fill="#000"/>
<rect x="1980.1" y="2763.8" width="22.1" height="22.1" fill="none" stroke="#000" stroke-width="3.7"/>
<rect x="1985.6" y="2769.4" width="11.0" height="11.0" fill="#000"/>
<rect x="1913.8" y="2830.1" width="22.1" height="22.1" fill="none" stroke="#000" stroke-width="3.7"/>
<rect x="1919.4" y="2835.6" width="11.0" height="11.0" fill="#000"/>
</svg>
</body></html>
